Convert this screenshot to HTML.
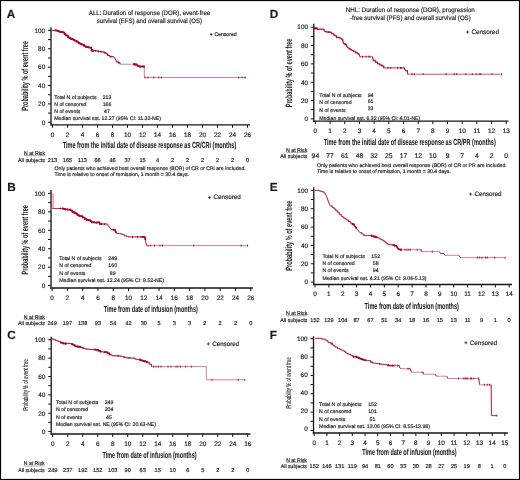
<!DOCTYPE html>
<html><head><meta charset="utf-8"><title>Kaplan-Meier figure</title>
<style>
html,body{margin:0;padding:0;background:#fff;}
body{width:520px;height:480px;overflow:hidden;}
svg{display:block;will-change:transform;}
svg text{font-family:"Liberation Sans", sans-serif;fill:#1a1a1a;stroke:#1a1a1a;stroke-width:0.16px;}
svg text.nb{stroke:none;}
svg text.xl{stroke-width:0.06px;}
svg text.yl{stroke-width:0.1px;}
</style></head>
<body>
<svg width="520" height="480" viewBox="0 0 520 480">
<rect x="0" y="0" width="520" height="480" fill="#fff"/>
<rect x="0.5" y="0.5" width="519" height="479" fill="none" stroke="#000" stroke-width="1.2"/>
<g text-rendering="geometricPrecision">
<text x="6.80" y="17.62" font-size="11.8" font-weight="bold" fill="#000">A</text>
<text x="88.80" y="15.03" font-size="6.5" textLength="121.40" lengthAdjust="spacingAndGlyphs">ALL: Duration of response (DOR), event-free</text>
<text x="96.80" y="23.08" font-size="6.5" textLength="105.20" lengthAdjust="spacingAndGlyphs">survival (EFS) and overall survival (OS)</text>
<line x1="209.84" y1="34.45" x2="212.45" y2="34.45" stroke="#222" stroke-width="0.75"/>
<line x1="211.15" y1="33.15" x2="211.15" y2="35.75" stroke="#222" stroke-width="0.75"/>
<text x="214.43" y="35.90" font-size="5.3" textLength="22.17" lengthAdjust="spacingAndGlyphs">Censored</text>
<line x1="51.00" y1="27.30" x2="51.00" y2="125.40" stroke="#141414" stroke-width="1.3"/>
<line x1="48.00" y1="122.30" x2="51.00" y2="122.30" stroke="#141414" stroke-width="1.0"/>
<text x="45.20" y="124.59" font-size="6.4" text-anchor="end">0</text>
<line x1="48.00" y1="113.11" x2="51.00" y2="113.11" stroke="#141414" stroke-width="1.0"/>
<line x1="48.00" y1="103.92" x2="51.00" y2="103.92" stroke="#141414" stroke-width="1.0"/>
<text x="45.20" y="106.21" font-size="6.4" text-anchor="end">20</text>
<line x1="48.00" y1="94.73" x2="51.00" y2="94.73" stroke="#141414" stroke-width="1.0"/>
<line x1="48.00" y1="85.54" x2="51.00" y2="85.54" stroke="#141414" stroke-width="1.0"/>
<text x="45.20" y="87.83" font-size="6.4" text-anchor="end">40</text>
<line x1="48.00" y1="76.35" x2="51.00" y2="76.35" stroke="#141414" stroke-width="1.0"/>
<line x1="48.00" y1="67.16" x2="51.00" y2="67.16" stroke="#141414" stroke-width="1.0"/>
<text x="45.20" y="69.45" font-size="6.4" text-anchor="end">60</text>
<line x1="48.00" y1="57.97" x2="51.00" y2="57.97" stroke="#141414" stroke-width="1.0"/>
<line x1="48.00" y1="48.78" x2="51.00" y2="48.78" stroke="#141414" stroke-width="1.0"/>
<text x="45.20" y="51.07" font-size="6.4" text-anchor="end">80</text>
<line x1="48.00" y1="39.59" x2="51.00" y2="39.59" stroke="#141414" stroke-width="1.0"/>
<line x1="48.00" y1="30.40" x2="51.00" y2="30.40" stroke="#141414" stroke-width="1.0"/>
<text x="45.20" y="32.69" font-size="6.4" text-anchor="end">100</text>
<line x1="50.40" y1="124.80" x2="250.00" y2="124.80" stroke="#141414" stroke-width="1.3"/>
<line x1="52.50" y1="124.80" x2="52.50" y2="127.80" stroke="#141414" stroke-width="1.0"/>
<text x="52.50" y="136.89" font-size="6.4" text-anchor="middle">0</text>
<line x1="67.50" y1="124.80" x2="67.50" y2="127.80" stroke="#141414" stroke-width="1.0"/>
<text x="67.50" y="136.89" font-size="6.4" text-anchor="middle">2</text>
<line x1="82.50" y1="124.80" x2="82.50" y2="127.80" stroke="#141414" stroke-width="1.0"/>
<text x="82.50" y="136.89" font-size="6.4" text-anchor="middle">4</text>
<line x1="97.50" y1="124.80" x2="97.50" y2="127.80" stroke="#141414" stroke-width="1.0"/>
<text x="97.50" y="136.89" font-size="6.4" text-anchor="middle">6</text>
<line x1="112.50" y1="124.80" x2="112.50" y2="127.80" stroke="#141414" stroke-width="1.0"/>
<text x="112.50" y="136.89" font-size="6.4" text-anchor="middle">8</text>
<line x1="127.50" y1="124.80" x2="127.50" y2="127.80" stroke="#141414" stroke-width="1.0"/>
<text x="127.50" y="136.89" font-size="6.4" text-anchor="middle">10</text>
<line x1="142.50" y1="124.80" x2="142.50" y2="127.80" stroke="#141414" stroke-width="1.0"/>
<text x="142.50" y="136.89" font-size="6.4" text-anchor="middle">12</text>
<line x1="157.50" y1="124.80" x2="157.50" y2="127.80" stroke="#141414" stroke-width="1.0"/>
<text x="157.50" y="136.89" font-size="6.4" text-anchor="middle">14</text>
<line x1="172.50" y1="124.80" x2="172.50" y2="127.80" stroke="#141414" stroke-width="1.0"/>
<text x="172.50" y="136.89" font-size="6.4" text-anchor="middle">16</text>
<line x1="187.50" y1="124.80" x2="187.50" y2="127.80" stroke="#141414" stroke-width="1.0"/>
<text x="187.50" y="136.89" font-size="6.4" text-anchor="middle">18</text>
<line x1="202.50" y1="124.80" x2="202.50" y2="127.80" stroke="#141414" stroke-width="1.0"/>
<text x="202.50" y="136.89" font-size="6.4" text-anchor="middle">20</text>
<line x1="217.50" y1="124.80" x2="217.50" y2="127.80" stroke="#141414" stroke-width="1.0"/>
<text x="217.50" y="136.89" font-size="6.4" text-anchor="middle">22</text>
<line x1="232.50" y1="124.80" x2="232.50" y2="127.80" stroke="#141414" stroke-width="1.0"/>
<text x="232.50" y="136.89" font-size="6.4" text-anchor="middle">24</text>
<line x1="247.50" y1="124.80" x2="247.50" y2="127.80" stroke="#141414" stroke-width="1.0"/>
<text x="247.50" y="136.89" font-size="6.4" text-anchor="middle">26</text>
<text x="62.70" y="148.40" font-size="8.8" font-weight="bold" textLength="173.55" lengthAdjust="spacingAndGlyphs" class="xl">Time from the initial date of disease response as CR/CRi (months)</text>
<text class="nb" transform="translate(28.39,75.90) rotate(-90)" x="0" y="0" font-size="9.2" font-weight="bold" text-anchor="middle" textLength="69.80" lengthAdjust="spacingAndGlyphs">Probability % of event free</text>
<text x="54.20" y="98.96" font-size="5.2">Total N of subjects</text>
<text x="107.00" y="98.96" font-size="5.2" text-anchor="middle">213</text>
<text x="54.20" y="105.86" font-size="5.2">N of censored</text>
<text x="107.00" y="105.86" font-size="5.2" text-anchor="middle">166</text>
<text x="54.20" y="113.06" font-size="5.2">N of events</text>
<text x="107.00" y="113.06" font-size="5.2" text-anchor="middle">47</text>
<text x="54.20" y="120.36" font-size="5.2" textLength="106.90" lengthAdjust="spacingAndGlyphs">Median survival est. 12.27 (95% CI: 11.32-NE)</text>
<polyline points="51.50,30.40 55.80,30.40 57.20,30.40 57.20,31.00 59.10,31.00 59.10,31.80 60.60,31.80 60.60,32.00 62.50,32.00 62.50,32.30 64.40,32.30 64.40,34.20 65.90,34.20 65.90,35.60 67.80,35.60 67.80,37.10 69.20,37.10 69.20,38.00 70.70,38.00 70.70,39.00 73.10,39.00 73.10,39.90 74.30,39.90 74.30,40.40 75.50,40.40 75.50,40.90 76.70,40.90 76.70,41.60 77.90,41.60 77.90,42.30 78.80,42.30 78.80,43.30 80.50,43.30 80.50,44.05 82.20,44.05 82.20,44.80 84.10,44.80 84.10,46.20 86.10,46.20 86.10,47.00 87.75,47.00 87.75,47.30 89.40,47.30 89.40,47.60 91.30,47.60 91.30,48.60 92.30,50.70 95.20,50.70 96.90,50.70 96.90,51.20 98.43,51.20 98.43,51.40 99.97,51.40 99.97,51.60 101.50,51.60 101.50,51.80 103.30,51.80 103.30,52.30 105.00,52.30 105.00,53.00 106.70,53.00 106.70,54.10 107.90,54.10 107.90,55.50 109.60,55.50 109.60,56.70 113.60,56.70 114.80,58.40 116.00,60.10 116.50,61.90 118.30,61.90 118.30,62.70 120.00,62.70 120.00,64.20 133.30,64.20 135.00,64.20 135.00,64.50 137.30,64.50 137.30,66.10 139.00,66.10 139.00,66.50 144.30,66.50 144.30,77.50 246.00,77.50" fill="none" stroke="#d4829a" stroke-width="1.0" stroke-linejoin="miter"/>
<polyline points="51.50,30.40 55.80,30.40 57.20,30.40 57.20,31.00 59.10,31.00 59.10,31.80 60.60,31.80 60.60,32.00 62.50,32.00 62.50,32.30 64.40,32.30 64.40,34.20 65.90,34.20 65.90,35.60 67.80,35.60 67.80,37.10 69.20,37.10 69.20,38.00 70.70,38.00 70.70,39.00 73.10,39.00 73.10,39.90 74.30,39.90 74.30,40.40 75.50,40.40 75.50,40.90 76.70,40.90 76.70,41.60 77.90,41.60 77.90,42.30 78.80,42.30 78.80,43.30 80.50,43.30 80.50,44.05 82.20,44.05 82.20,44.80 84.10,44.80 84.10,46.20 86.10,46.20 86.10,47.00 87.75,47.00 87.75,47.30 89.40,47.30 89.40,47.60 91.30,47.60 91.30,48.60 92.30,50.70 95.20,50.70 96.90,50.70 96.90,51.20 98.43,51.20 98.43,51.40 99.97,51.40 99.97,51.60 101.50,51.60 101.50,51.80 103.30,51.80 103.30,52.30 105.00,52.30 105.00,53.00 106.70,53.00 106.70,54.10 107.90,54.10 107.90,55.50 109.60,55.50 109.60,56.70 113.60,56.70 114.80,58.40 116.00,60.10 116.50,61.90 118.30,61.90 118.30,62.70 120.00,62.70 120.00,64.20" fill="none" stroke="#aa0428" stroke-width="0.85" stroke-linejoin="miter"/>
<polyline points="133.30,64.20 135.00,64.20 135.00,64.50 137.30,64.50 137.30,66.10 139.00,66.10 139.00,66.50 144.30,66.50" fill="none" stroke="#aa0428" stroke-width="0.85" stroke-linejoin="miter"/>
<polyline points="55.80,30.40 55.80,30.40 57.20,30.40 57.20,31.00 59.10,31.00 59.10,31.80 60.60,31.80 60.60,32.00 62.50,32.00 62.50,32.30 64.40,32.30 64.40,34.20 65.90,34.20 65.90,35.60 67.80,35.60 67.80,37.10 69.20,37.10 69.20,38.00 70.70,38.00 70.70,39.00 73.10,39.00 73.10,39.90 74.30,39.90 74.30,40.40 75.50,40.40 75.50,40.90 76.70,40.90 76.70,41.60 77.90,41.60 77.90,42.30 78.80,42.30 78.80,43.30 80.50,43.30 80.50,44.05 82.20,44.05 82.20,44.80 84.10,44.80 84.10,46.20 86.10,46.20 86.10,47.00 87.75,47.00 87.75,47.30 89.40,47.30 89.40,47.60 91.30,47.60 91.30,48.60 92.30,50.70 93.20,50.70" fill="none" stroke="#aa0428" stroke-width="1.35" stroke-linejoin="miter" stroke-linecap="round"/>
<rect x="55.05" y="29.40" width="1.5" height="2.0" fill="#aa0428"/>
<rect x="57.39" y="30.00" width="1.5" height="2.0" fill="#aa0428"/>
<rect x="59.72" y="30.80" width="1.5" height="2.0" fill="#aa0428"/>
<rect x="62.06" y="31.30" width="1.5" height="2.0" fill="#aa0428"/>
<rect x="64.40" y="33.20" width="1.5" height="2.0" fill="#aa0428"/>
<rect x="66.74" y="34.60" width="1.5" height="2.0" fill="#aa0428"/>
<rect x="69.08" y="37.00" width="1.5" height="2.0" fill="#aa0428"/>
<rect x="71.41" y="38.00" width="1.5" height="2.0" fill="#aa0428"/>
<rect x="73.75" y="39.40" width="1.5" height="2.0" fill="#aa0428"/>
<rect x="76.09" y="40.60" width="1.5" height="2.0" fill="#aa0428"/>
<rect x="78.42" y="42.30" width="1.5" height="2.0" fill="#aa0428"/>
<rect x="80.76" y="43.05" width="1.5" height="2.0" fill="#aa0428"/>
<rect x="83.10" y="43.80" width="1.5" height="2.0" fill="#aa0428"/>
<rect x="85.44" y="46.00" width="1.5" height="2.0" fill="#aa0428"/>
<rect x="87.78" y="46.30" width="1.5" height="2.0" fill="#aa0428"/>
<rect x="90.11" y="46.60" width="1.5" height="2.0" fill="#aa0428"/>
<rect x="92.45" y="49.70" width="1.5" height="2.0" fill="#aa0428"/>
<polyline points="134.00,64.20 135.00,64.20 135.00,64.50 136.50,64.50" fill="none" stroke="#aa0428" stroke-width="1.35" stroke-linejoin="miter" stroke-linecap="round"/>
<rect x="133.25" y="63.20" width="1.5" height="2.0" fill="#aa0428"/>
<rect x="135.75" y="63.50" width="1.5" height="2.0" fill="#aa0428"/>
<polyline points="139.50,66.50 144.00,66.50" fill="none" stroke="#aa0428" stroke-width="1.35" stroke-linejoin="miter" stroke-linecap="round"/>
<rect x="138.75" y="65.50" width="1.5" height="2.0" fill="#aa0428"/>
<rect x="143.25" y="65.50" width="1.5" height="2.0" fill="#aa0428"/>
<line x1="145.00" y1="76.50" x2="145.00" y2="78.50" stroke="#aa0428" stroke-width="0.9"/>
<line x1="148.00" y1="76.50" x2="148.00" y2="78.50" stroke="#aa0428" stroke-width="0.9"/>
<line x1="153.75" y1="76.50" x2="153.75" y2="78.50" stroke="#aa0428" stroke-width="0.9"/>
<line x1="158.75" y1="76.50" x2="158.75" y2="78.50" stroke="#aa0428" stroke-width="0.9"/>
<line x1="161.25" y1="76.50" x2="161.25" y2="78.50" stroke="#aa0428" stroke-width="0.9"/>
<line x1="238.75" y1="76.50" x2="238.75" y2="78.50" stroke="#aa0428" stroke-width="0.9"/>
<line x1="242.00" y1="76.50" x2="242.00" y2="78.50" stroke="#aa0428" stroke-width="0.9"/>
<line x1="245.00" y1="76.50" x2="245.00" y2="78.50" stroke="#aa0428" stroke-width="0.9"/>
<line x1="95.50" y1="49.79" x2="95.50" y2="51.79" stroke="#aa0428" stroke-width="0.9"/>
<line x1="98.50" y1="50.41" x2="98.50" y2="52.41" stroke="#aa0428" stroke-width="0.9"/>
<line x1="101.00" y1="50.73" x2="101.00" y2="52.73" stroke="#aa0428" stroke-width="0.9"/>
<line x1="104.50" y1="51.79" x2="104.50" y2="53.79" stroke="#aa0428" stroke-width="0.9"/>
<line x1="107.50" y1="54.03" x2="107.50" y2="56.03" stroke="#aa0428" stroke-width="0.9"/>
<line x1="111.00" y1="55.70" x2="111.00" y2="57.70" stroke="#aa0428" stroke-width="0.9"/>
<line x1="118.30" y1="61.70" x2="118.30" y2="63.70" stroke="#aa0428" stroke-width="0.9"/>
<ellipse cx="91.60" cy="50.40" rx="1.10" ry="1.04" fill="#aa0428"/>
<ellipse cx="135.20" cy="64.60" rx="1.15" ry="1.09" fill="#aa0428"/>
<ellipse cx="137.90" cy="65.90" rx="1.10" ry="1.04" fill="#aa0428"/>
<ellipse cx="140.60" cy="66.50" rx="1.15" ry="1.09" fill="#aa0428"/>
<ellipse cx="142.90" cy="66.50" rx="1.15" ry="1.09" fill="#aa0428"/>
<text x="24.00" y="154.90" font-size="5.3" textLength="21.00" lengthAdjust="spacingAndGlyphs">N at Risk</text>
<line x1="24.00" y1="155.66" x2="45.00" y2="155.66" stroke="#555" stroke-width="0.5"/>
<text x="18.00" y="161.65" font-size="5.3" textLength="27.00" lengthAdjust="spacingAndGlyphs">All subjects</text>
<text x="52.50" y="161.75" font-size="5.6" text-anchor="middle">213</text>
<text x="67.50" y="161.75" font-size="5.6" text-anchor="middle">165</text>
<text x="82.50" y="161.75" font-size="5.6" text-anchor="middle">113</text>
<text x="97.50" y="161.75" font-size="5.6" text-anchor="middle">66</text>
<text x="112.50" y="161.75" font-size="5.6" text-anchor="middle">46</text>
<text x="127.50" y="161.75" font-size="5.6" text-anchor="middle">37</text>
<text x="142.50" y="161.75" font-size="5.6" text-anchor="middle">15</text>
<text x="157.50" y="161.75" font-size="5.6" text-anchor="middle">4</text>
<text x="172.50" y="161.75" font-size="5.6" text-anchor="middle">2</text>
<text x="187.50" y="161.75" font-size="5.6" text-anchor="middle">2</text>
<text x="202.50" y="161.75" font-size="5.6" text-anchor="middle">2</text>
<text x="217.50" y="161.75" font-size="5.6" text-anchor="middle">2</text>
<text x="232.50" y="161.75" font-size="5.6" text-anchor="middle">2</text>
<text x="247.50" y="161.75" font-size="5.6" text-anchor="middle">0</text>
<text x="54.50" y="169.86" font-size="5.2" textLength="191.25" lengthAdjust="spacingAndGlyphs">Only patients who achieved best overall response (BOR) of CR or CRi are included.</text>
<text x="54.50" y="175.61" font-size="5.2" textLength="134.50" lengthAdjust="spacingAndGlyphs">Time is relative to onset of remission, 1 month = 30.4 days.</text>
<text x="7.30" y="190.92" font-size="11.8" font-weight="bold" fill="#000">B</text>
<line x1="208.05" y1="197.45" x2="211.15" y2="197.45" stroke="#222" stroke-width="0.75"/>
<line x1="209.60" y1="195.90" x2="209.60" y2="199.00" stroke="#222" stroke-width="0.75"/>
<text x="213.50" y="199.26" font-size="6.3" textLength="27.25" lengthAdjust="spacingAndGlyphs">Censored</text>
<line x1="51.00" y1="190.00" x2="51.00" y2="288.60" stroke="#141414" stroke-width="1.3"/>
<line x1="48.00" y1="285.60" x2="51.00" y2="285.60" stroke="#141414" stroke-width="1.0"/>
<text x="45.20" y="287.89" font-size="6.4" text-anchor="end">0</text>
<line x1="48.00" y1="276.38" x2="51.00" y2="276.38" stroke="#141414" stroke-width="1.0"/>
<line x1="48.00" y1="267.16" x2="51.00" y2="267.16" stroke="#141414" stroke-width="1.0"/>
<text x="45.20" y="269.45" font-size="6.4" text-anchor="end">20</text>
<line x1="48.00" y1="257.94" x2="51.00" y2="257.94" stroke="#141414" stroke-width="1.0"/>
<line x1="48.00" y1="248.72" x2="51.00" y2="248.72" stroke="#141414" stroke-width="1.0"/>
<text x="45.20" y="251.01" font-size="6.4" text-anchor="end">40</text>
<line x1="48.00" y1="239.50" x2="51.00" y2="239.50" stroke="#141414" stroke-width="1.0"/>
<line x1="48.00" y1="230.28" x2="51.00" y2="230.28" stroke="#141414" stroke-width="1.0"/>
<text x="45.20" y="232.57" font-size="6.4" text-anchor="end">60</text>
<line x1="48.00" y1="221.06" x2="51.00" y2="221.06" stroke="#141414" stroke-width="1.0"/>
<line x1="48.00" y1="211.84" x2="51.00" y2="211.84" stroke="#141414" stroke-width="1.0"/>
<text x="45.20" y="214.13" font-size="6.4" text-anchor="end">80</text>
<line x1="48.00" y1="202.62" x2="51.00" y2="202.62" stroke="#141414" stroke-width="1.0"/>
<line x1="48.00" y1="193.40" x2="51.00" y2="193.40" stroke="#141414" stroke-width="1.0"/>
<text x="45.20" y="195.69" font-size="6.4" text-anchor="end">100</text>
<line x1="50.40" y1="288.00" x2="252.90" y2="288.00" stroke="#141414" stroke-width="1.3"/>
<line x1="52.10" y1="288.00" x2="52.10" y2="291.00" stroke="#141414" stroke-width="1.0"/>
<text x="52.10" y="299.59" font-size="6.4" text-anchor="middle">0</text>
<line x1="67.38" y1="288.00" x2="67.38" y2="291.00" stroke="#141414" stroke-width="1.0"/>
<text x="67.38" y="299.59" font-size="6.4" text-anchor="middle">2</text>
<line x1="82.66" y1="288.00" x2="82.66" y2="291.00" stroke="#141414" stroke-width="1.0"/>
<text x="82.66" y="299.59" font-size="6.4" text-anchor="middle">4</text>
<line x1="97.94" y1="288.00" x2="97.94" y2="291.00" stroke="#141414" stroke-width="1.0"/>
<text x="97.94" y="299.59" font-size="6.4" text-anchor="middle">6</text>
<line x1="113.22" y1="288.00" x2="113.22" y2="291.00" stroke="#141414" stroke-width="1.0"/>
<text x="113.22" y="299.59" font-size="6.4" text-anchor="middle">8</text>
<line x1="128.50" y1="288.00" x2="128.50" y2="291.00" stroke="#141414" stroke-width="1.0"/>
<text x="128.50" y="299.59" font-size="6.4" text-anchor="middle">10</text>
<line x1="143.78" y1="288.00" x2="143.78" y2="291.00" stroke="#141414" stroke-width="1.0"/>
<text x="143.78" y="299.59" font-size="6.4" text-anchor="middle">12</text>
<line x1="159.06" y1="288.00" x2="159.06" y2="291.00" stroke="#141414" stroke-width="1.0"/>
<text x="159.06" y="299.59" font-size="6.4" text-anchor="middle">14</text>
<line x1="174.34" y1="288.00" x2="174.34" y2="291.00" stroke="#141414" stroke-width="1.0"/>
<text x="174.34" y="299.59" font-size="6.4" text-anchor="middle">16</text>
<line x1="189.62" y1="288.00" x2="189.62" y2="291.00" stroke="#141414" stroke-width="1.0"/>
<text x="189.62" y="299.59" font-size="6.4" text-anchor="middle">18</text>
<line x1="204.90" y1="288.00" x2="204.90" y2="291.00" stroke="#141414" stroke-width="1.0"/>
<text x="204.90" y="299.59" font-size="6.4" text-anchor="middle">20</text>
<line x1="220.18" y1="288.00" x2="220.18" y2="291.00" stroke="#141414" stroke-width="1.0"/>
<text x="220.18" y="299.59" font-size="6.4" text-anchor="middle">22</text>
<line x1="235.46" y1="288.00" x2="235.46" y2="291.00" stroke="#141414" stroke-width="1.0"/>
<text x="235.46" y="299.59" font-size="6.4" text-anchor="middle">24</text>
<line x1="250.74" y1="288.00" x2="250.74" y2="291.00" stroke="#141414" stroke-width="1.0"/>
<text x="250.74" y="299.59" font-size="6.4" text-anchor="middle">26</text>
<text x="103.75" y="311.70" font-size="8.8" font-weight="bold" textLength="94.05" lengthAdjust="spacingAndGlyphs" class="xl">Time from date of infusion (months)</text>
<text class="nb" transform="translate(28.24,239.80) rotate(-90)" x="0" y="0" font-size="9.2" font-weight="bold" text-anchor="middle" textLength="69.20" lengthAdjust="spacingAndGlyphs">Probability % of event free</text>
<text x="59.20" y="259.76" font-size="5.2">Total N of subjects</text>
<text x="112.70" y="259.76" font-size="5.2" text-anchor="middle">249</text>
<text x="59.20" y="267.06" font-size="5.2">N of censored</text>
<text x="112.70" y="267.06" font-size="5.2" text-anchor="middle">160</text>
<text x="59.20" y="274.56" font-size="5.2">N of events</text>
<text x="112.70" y="274.56" font-size="5.2" text-anchor="middle">89</text>
<text x="59.20" y="282.26" font-size="5.2" textLength="104.80" lengthAdjust="spacingAndGlyphs">Median survival est. 12.24 (95% CI: 8.52-NE)</text>
<polyline points="52.30,208.50 62.50,208.50 63.00,208.50 63.00,208.70 64.20,208.70 64.20,209.05 65.40,209.05 65.40,209.40 67.30,209.40 67.30,209.60 69.20,209.60 70.70,209.60 70.70,210.40 72.10,210.40 72.10,211.70 74.00,211.70 74.00,212.70 76.00,212.70 76.00,213.70 77.40,213.70 77.40,214.90 78.80,214.90 78.80,215.90 80.80,215.90 80.80,216.30 82.70,216.30 82.70,217.50 84.60,217.50 84.60,218.80 86.50,218.80 86.50,220.00 88.50,220.00 88.50,220.20 90.40,220.20 90.40,221.20 91.80,221.20 91.80,222.30 95.20,222.30 95.20,222.60 97.30,222.60 97.30,222.40 99.60,222.40 99.60,224.00 103.70,224.00 106.00,224.00 107.70,224.00 107.70,224.80 109.40,227.10 111.10,229.40 112.30,229.40 112.30,229.60 113.50,229.60 113.50,229.80 115.20,229.80 115.20,231.10 116.90,233.50 119.80,233.50 119.80,233.70 121.25,233.70 121.25,234.15 122.70,234.15 122.70,234.60 124.40,234.60 124.40,235.80 126.40,235.80 126.40,236.35 128.40,236.35 128.40,236.90 142.30,236.90 144.00,236.90 144.00,237.10 145.20,237.10 145.20,238.10 145.70,242.70 146.90,245.60 248.25,245.60" fill="none" stroke="#d4829a" stroke-width="1.0" stroke-linejoin="miter"/>
<polyline points="52.30,208.50 62.50,208.50 63.00,208.50 63.00,208.70 64.20,208.70 64.20,209.05 65.40,209.05 65.40,209.40 67.30,209.40 67.30,209.60 69.20,209.60 70.70,209.60 70.70,210.40 72.10,210.40 72.10,211.70 74.00,211.70 74.00,212.70 76.00,212.70 76.00,213.70 77.40,213.70 77.40,214.90 78.80,214.90 78.80,215.90 80.80,215.90 80.80,216.30 82.70,216.30 82.70,217.50 84.60,217.50 84.60,218.80 86.50,218.80 86.50,220.00 88.50,220.00 88.50,220.20 90.40,220.20 90.40,221.20 91.80,221.20 91.80,222.30 95.20,222.30 95.20,222.60 97.30,222.60 97.30,222.40 99.60,222.40 99.60,224.00 103.70,224.00 106.00,224.00 107.70,224.00 107.70,224.80 109.40,227.10 111.10,229.40 112.30,229.40 112.30,229.60 113.50,229.60 113.50,229.80 115.20,229.80 115.20,231.10 116.90,233.50 119.80,233.50 119.80,233.70 121.25,233.70 121.25,234.15 122.70,234.15 122.70,234.60 124.40,234.60 124.40,235.80 126.40,235.80 126.40,236.35 128.40,236.35 128.40,236.90 142.30,236.90 144.00,236.90 144.00,237.10 145.20,237.10 145.20,238.10 145.70,242.70 146.90,245.60" fill="none" stroke="#aa0428" stroke-width="0.68" stroke-linejoin="miter"/>
<polyline points="63.00,208.50 63.00,208.50 63.00,208.70 64.20,208.70 64.20,209.05 65.40,209.05 65.40,209.40 67.30,209.40 67.30,209.60 69.20,209.60 70.70,209.60 70.70,210.40 72.10,210.40 72.10,211.70 74.00,211.70 74.00,212.70 76.00,212.70 76.00,213.70 77.40,213.70 77.40,214.90 78.80,214.90 78.80,215.90 80.80,215.90 80.80,216.30 82.70,216.30 82.70,217.50 84.60,217.50 84.60,218.80 86.50,218.80 86.50,220.00 88.50,220.00 88.50,220.20 90.40,220.20 90.40,221.20 91.80,221.20 91.80,222.30 95.20,222.30 95.20,222.60 97.30,222.60 97.30,222.40 99.60,222.40 99.60,224.00 101.50,224.00" fill="none" stroke="#aa0428" stroke-width="1.35" stroke-linejoin="miter" stroke-linecap="round"/>
<rect x="62.25" y="207.50" width="1.5" height="2.0" fill="#aa0428"/>
<rect x="64.66" y="208.40" width="1.5" height="2.0" fill="#aa0428"/>
<rect x="67.06" y="208.60" width="1.5" height="2.0" fill="#aa0428"/>
<rect x="69.47" y="208.60" width="1.5" height="2.0" fill="#aa0428"/>
<rect x="71.88" y="210.70" width="1.5" height="2.0" fill="#aa0428"/>
<rect x="74.28" y="211.70" width="1.5" height="2.0" fill="#aa0428"/>
<rect x="76.69" y="213.90" width="1.5" height="2.0" fill="#aa0428"/>
<rect x="79.09" y="214.90" width="1.5" height="2.0" fill="#aa0428"/>
<rect x="81.50" y="215.30" width="1.5" height="2.0" fill="#aa0428"/>
<rect x="83.91" y="217.80" width="1.5" height="2.0" fill="#aa0428"/>
<rect x="86.31" y="219.00" width="1.5" height="2.0" fill="#aa0428"/>
<rect x="88.72" y="219.20" width="1.5" height="2.0" fill="#aa0428"/>
<rect x="91.12" y="221.30" width="1.5" height="2.0" fill="#aa0428"/>
<rect x="93.53" y="221.30" width="1.5" height="2.0" fill="#aa0428"/>
<rect x="95.94" y="221.60" width="1.5" height="2.0" fill="#aa0428"/>
<rect x="98.34" y="221.40" width="1.5" height="2.0" fill="#aa0428"/>
<rect x="100.75" y="223.00" width="1.5" height="2.0" fill="#aa0428"/>
<polyline points="113.50,229.60 113.50,229.60 113.50,229.80 115.20,229.80 115.20,231.10 116.00,232.23" fill="none" stroke="#aa0428" stroke-width="1.35" stroke-linejoin="miter" stroke-linecap="round"/>
<rect x="112.75" y="228.60" width="1.5" height="2.0" fill="#aa0428"/>
<rect x="115.25" y="231.23" width="1.5" height="2.0" fill="#aa0428"/>
<polyline points="142.50,236.90 144.00,236.90 144.00,237.10 145.20,237.10 145.20,238.10 145.30,239.02" fill="none" stroke="#aa0428" stroke-width="1.35" stroke-linejoin="miter" stroke-linecap="round"/>
<rect x="141.75" y="235.90" width="1.5" height="2.0" fill="#aa0428"/>
<rect x="144.55" y="238.02" width="1.5" height="2.0" fill="#aa0428"/>
<line x1="60.60" y1="207.50" x2="60.60" y2="209.50" stroke="#aa0428" stroke-width="0.9"/>
<line x1="104.50" y1="223.00" x2="104.50" y2="225.00" stroke="#aa0428" stroke-width="0.9"/>
<line x1="132.50" y1="235.90" x2="132.50" y2="237.90" stroke="#aa0428" stroke-width="0.9"/>
<line x1="137.50" y1="235.90" x2="137.50" y2="237.90" stroke="#aa0428" stroke-width="0.9"/>
<line x1="141.00" y1="235.90" x2="141.00" y2="237.90" stroke="#aa0428" stroke-width="0.9"/>
<line x1="148.00" y1="244.60" x2="148.00" y2="246.60" stroke="#aa0428" stroke-width="0.9"/>
<line x1="150.50" y1="244.60" x2="150.50" y2="246.60" stroke="#aa0428" stroke-width="0.9"/>
<line x1="154.50" y1="244.60" x2="154.50" y2="246.60" stroke="#aa0428" stroke-width="0.9"/>
<line x1="160.00" y1="244.60" x2="160.00" y2="246.60" stroke="#aa0428" stroke-width="0.9"/>
<line x1="162.50" y1="244.60" x2="162.50" y2="246.60" stroke="#aa0428" stroke-width="0.9"/>
<line x1="193.75" y1="244.60" x2="193.75" y2="246.60" stroke="#aa0428" stroke-width="0.9"/>
<line x1="241.25" y1="244.60" x2="241.25" y2="246.60" stroke="#aa0428" stroke-width="0.9"/>
<line x1="247.50" y1="244.60" x2="247.50" y2="246.60" stroke="#aa0428" stroke-width="0.9"/>
<line x1="53.0" y1="193.4" x2="53.0" y2="208.3" stroke="#e89aae" stroke-width="1.6"/>
<text x="23.75" y="318.90" font-size="5.3" textLength="21.25" lengthAdjust="spacingAndGlyphs">N at Risk</text>
<line x1="23.75" y1="319.66" x2="45.00" y2="319.66" stroke="#555" stroke-width="0.5"/>
<text x="18.00" y="325.15" font-size="5.3" textLength="27.00" lengthAdjust="spacingAndGlyphs">All subjects</text>
<text x="52.10" y="325.00" font-size="5.6" text-anchor="middle">249</text>
<text x="67.38" y="325.00" font-size="5.6" text-anchor="middle">197</text>
<text x="82.66" y="325.00" font-size="5.6" text-anchor="middle">138</text>
<text x="97.94" y="325.00" font-size="5.6" text-anchor="middle">93</text>
<text x="113.22" y="325.00" font-size="5.6" text-anchor="middle">54</text>
<text x="128.50" y="325.00" font-size="5.6" text-anchor="middle">42</text>
<text x="143.78" y="325.00" font-size="5.6" text-anchor="middle">30</text>
<text x="159.06" y="325.00" font-size="5.6" text-anchor="middle">5</text>
<text x="174.34" y="325.00" font-size="5.6" text-anchor="middle">3</text>
<text x="189.62" y="325.00" font-size="5.6" text-anchor="middle">3</text>
<text x="204.90" y="325.00" font-size="5.6" text-anchor="middle">2</text>
<text x="220.18" y="325.00" font-size="5.6" text-anchor="middle">2</text>
<text x="235.46" y="325.00" font-size="5.6" text-anchor="middle">2</text>
<text x="250.74" y="325.00" font-size="5.6" text-anchor="middle">0</text>
<text x="7.20" y="338.62" font-size="11.8" font-weight="bold" fill="#000">C</text>
<line x1="206.75" y1="343.95" x2="209.85" y2="343.95" stroke="#222" stroke-width="0.75"/>
<line x1="208.30" y1="342.40" x2="208.30" y2="345.50" stroke="#222" stroke-width="0.75"/>
<text x="212.20" y="345.76" font-size="6.3" textLength="27.00" lengthAdjust="spacingAndGlyphs">Censored</text>
<line x1="51.20" y1="336.70" x2="51.20" y2="434.60" stroke="#141414" stroke-width="1.3"/>
<line x1="48.20" y1="431.60" x2="51.20" y2="431.60" stroke="#141414" stroke-width="1.0"/>
<text x="45.40" y="433.89" font-size="6.4" text-anchor="end">0</text>
<line x1="48.20" y1="422.42" x2="51.20" y2="422.42" stroke="#141414" stroke-width="1.0"/>
<line x1="48.20" y1="413.23" x2="51.20" y2="413.23" stroke="#141414" stroke-width="1.0"/>
<text x="45.40" y="415.52" font-size="6.4" text-anchor="end">20</text>
<line x1="48.20" y1="404.05" x2="51.20" y2="404.05" stroke="#141414" stroke-width="1.0"/>
<line x1="48.20" y1="394.86" x2="51.20" y2="394.86" stroke="#141414" stroke-width="1.0"/>
<text x="45.40" y="397.15" font-size="6.4" text-anchor="end">40</text>
<line x1="48.20" y1="385.68" x2="51.20" y2="385.68" stroke="#141414" stroke-width="1.0"/>
<line x1="48.20" y1="376.49" x2="51.20" y2="376.49" stroke="#141414" stroke-width="1.0"/>
<text x="45.40" y="378.78" font-size="6.4" text-anchor="end">60</text>
<line x1="48.20" y1="367.31" x2="51.20" y2="367.31" stroke="#141414" stroke-width="1.0"/>
<line x1="48.20" y1="358.12" x2="51.20" y2="358.12" stroke="#141414" stroke-width="1.0"/>
<text x="45.40" y="360.41" font-size="6.4" text-anchor="end">80</text>
<line x1="48.20" y1="348.94" x2="51.20" y2="348.94" stroke="#141414" stroke-width="1.0"/>
<line x1="48.20" y1="339.75" x2="51.20" y2="339.75" stroke="#141414" stroke-width="1.0"/>
<text x="45.40" y="342.04" font-size="6.4" text-anchor="end">100</text>
<line x1="50.60" y1="434.00" x2="250.40" y2="434.00" stroke="#141414" stroke-width="1.3"/>
<line x1="52.70" y1="434.00" x2="52.70" y2="437.00" stroke="#141414" stroke-width="1.0"/>
<text x="52.70" y="446.49" font-size="6.4" text-anchor="middle">0</text>
<line x1="67.70" y1="434.00" x2="67.70" y2="437.00" stroke="#141414" stroke-width="1.0"/>
<text x="67.70" y="446.49" font-size="6.4" text-anchor="middle">2</text>
<line x1="82.70" y1="434.00" x2="82.70" y2="437.00" stroke="#141414" stroke-width="1.0"/>
<text x="82.70" y="446.49" font-size="6.4" text-anchor="middle">4</text>
<line x1="97.70" y1="434.00" x2="97.70" y2="437.00" stroke="#141414" stroke-width="1.0"/>
<text x="97.70" y="446.49" font-size="6.4" text-anchor="middle">6</text>
<line x1="112.70" y1="434.00" x2="112.70" y2="437.00" stroke="#141414" stroke-width="1.0"/>
<text x="112.70" y="446.49" font-size="6.4" text-anchor="middle">8</text>
<line x1="127.70" y1="434.00" x2="127.70" y2="437.00" stroke="#141414" stroke-width="1.0"/>
<text x="127.70" y="446.49" font-size="6.4" text-anchor="middle">10</text>
<line x1="142.70" y1="434.00" x2="142.70" y2="437.00" stroke="#141414" stroke-width="1.0"/>
<text x="142.70" y="446.49" font-size="6.4" text-anchor="middle">12</text>
<line x1="157.70" y1="434.00" x2="157.70" y2="437.00" stroke="#141414" stroke-width="1.0"/>
<text x="157.70" y="446.49" font-size="6.4" text-anchor="middle">14</text>
<line x1="172.70" y1="434.00" x2="172.70" y2="437.00" stroke="#141414" stroke-width="1.0"/>
<text x="172.70" y="446.49" font-size="6.4" text-anchor="middle">16</text>
<line x1="187.70" y1="434.00" x2="187.70" y2="437.00" stroke="#141414" stroke-width="1.0"/>
<text x="187.70" y="446.49" font-size="6.4" text-anchor="middle">18</text>
<line x1="202.70" y1="434.00" x2="202.70" y2="437.00" stroke="#141414" stroke-width="1.0"/>
<text x="202.70" y="446.49" font-size="6.4" text-anchor="middle">20</text>
<line x1="217.70" y1="434.00" x2="217.70" y2="437.00" stroke="#141414" stroke-width="1.0"/>
<text x="217.70" y="446.49" font-size="6.4" text-anchor="middle">22</text>
<line x1="232.70" y1="434.00" x2="232.70" y2="437.00" stroke="#141414" stroke-width="1.0"/>
<text x="232.70" y="446.49" font-size="6.4" text-anchor="middle">24</text>
<line x1="247.70" y1="434.00" x2="247.70" y2="437.00" stroke="#141414" stroke-width="1.0"/>
<text x="247.70" y="446.49" font-size="6.4" text-anchor="middle">16</text>
<text x="102.40" y="458.30" font-size="8.8" font-weight="bold" textLength="94.20" lengthAdjust="spacingAndGlyphs" class="xl">Time from date of infusion (months)</text>
<text class="yl" transform="translate(27.58,385.00) rotate(-90)" x="0" y="0" font-size="7.2" font-weight="normal" text-anchor="middle" textLength="51.20" lengthAdjust="spacingAndGlyphs">Probability % of event free</text>
<text x="55.90" y="404.36" font-size="5.2">Total N of subjects</text>
<text x="109.00" y="404.36" font-size="5.2" text-anchor="middle">249</text>
<text x="55.90" y="411.36" font-size="5.2">N of censored</text>
<text x="109.00" y="411.36" font-size="5.2" text-anchor="middle">204</text>
<text x="55.90" y="418.76" font-size="5.2">N of events</text>
<text x="109.00" y="418.76" font-size="5.2" text-anchor="middle">45</text>
<text x="55.90" y="426.16" font-size="5.2" textLength="100.10" lengthAdjust="spacingAndGlyphs">Median survival est. NE (95% CI: 20.63-NE)</text>
<polyline points="51.80,339.00 53.80,339.00 53.80,339.75 55.80,339.75 55.80,340.50 57.25,340.50 57.25,341.10 58.70,341.10 58.70,341.70 60.60,341.70 60.60,342.55 62.50,342.55 62.50,343.40 64.40,343.40 64.40,343.60 67.30,343.60 67.30,343.40 70.20,343.40 70.20,343.60 71.65,343.60 71.65,344.20 73.10,344.20 73.10,344.80 74.30,344.80 74.30,345.55 75.50,345.55 75.50,346.30 76.90,346.30 76.90,346.50 78.80,346.50 78.80,347.00 80.80,347.00 80.80,347.50 82.25,347.50 82.25,347.95 83.70,347.95 83.70,348.40 85.10,348.40 85.10,348.80 86.50,348.80 86.50,349.20 89.40,349.20 89.40,349.40 92.30,349.40 92.30,349.60 95.60,349.60 97.13,349.60 97.13,350.23 98.67,350.23 98.67,350.87 100.20,350.87 100.20,351.50 101.65,351.50 101.65,351.80 103.10,351.80 103.10,352.10 105.40,352.10 107.40,352.10 107.40,353.25 109.40,353.25 109.40,354.40 110.85,354.40 110.85,355.10 112.30,355.10 112.30,355.80 118.10,355.80 118.10,355.90 119.80,355.90 119.80,356.20 121.50,356.20 121.50,356.50 123.03,356.50 123.03,356.93 124.57,356.93 124.57,357.37 126.10,357.37 126.10,357.80 129.60,357.80 129.60,358.10 132.50,358.10 134.80,358.10 134.80,359.00 136.25,359.00 136.25,359.30 137.70,359.30 137.70,359.60 140.00,359.60 140.00,360.10 141.72,360.10 141.72,360.62 143.45,360.62 143.45,361.15 145.18,361.15 145.18,361.68 146.90,361.68 146.90,362.20 149.20,362.20 149.20,364.20 151.50,364.20 151.50,366.60 206.30,366.60 206.30,379.80 244.90,379.80" fill="none" stroke="#d4829a" stroke-width="1.0" stroke-linejoin="miter"/>
<polyline points="51.80,339.00 53.80,339.00 53.80,339.75 55.80,339.75 55.80,340.50 57.25,340.50 57.25,341.10 58.70,341.10 58.70,341.70 60.60,341.70 60.60,342.55 62.50,342.55 62.50,343.40 64.40,343.40 64.40,343.60 67.30,343.60 67.30,343.40 70.20,343.40 70.20,343.60 71.65,343.60 71.65,344.20 73.10,344.20 73.10,344.80 74.30,344.80 74.30,345.55 75.50,345.55 75.50,346.30 76.90,346.30 76.90,346.50 78.80,346.50 78.80,347.00 80.80,347.00 80.80,347.50 82.25,347.50 82.25,347.95 83.70,347.95 83.70,348.40 85.10,348.40 85.10,348.80 86.50,348.80 86.50,349.20 89.40,349.20 89.40,349.40 92.30,349.40 92.30,349.60 95.60,349.60 97.13,349.60 97.13,350.23 98.67,350.23 98.67,350.87 100.20,350.87 100.20,351.50 101.65,351.50 101.65,351.80 103.10,351.80 103.10,352.10 105.40,352.10 107.40,352.10 107.40,353.25 109.40,353.25 109.40,354.40 110.85,354.40 110.85,355.10 112.30,355.10 112.30,355.80 118.10,355.80 118.10,355.90 119.80,355.90 119.80,356.20 121.50,356.20 121.50,356.50 123.03,356.50 123.03,356.93 124.57,356.93 124.57,357.37 126.10,357.37 126.10,357.80 129.60,357.80 129.60,358.10 132.50,358.10 134.80,358.10 134.80,359.00 136.25,359.00 136.25,359.30 137.70,359.30 137.70,359.60 140.00,359.60 140.00,360.10 141.72,360.10 141.72,360.62 143.45,360.62 143.45,361.15 145.18,361.15 145.18,361.68 146.90,361.68 146.90,362.20 149.20,362.20 149.20,364.20 151.50,364.20 151.50,366.60" fill="none" stroke="#aa0428" stroke-width="0.8" stroke-linejoin="miter"/>
<polyline points="61.00,342.55 62.50,342.55 62.50,343.40 64.40,343.40 64.40,343.60 66.00,343.60" fill="none" stroke="#aa0428" stroke-width="1.35" stroke-linejoin="miter" stroke-linecap="round"/>
<rect x="60.25" y="341.55" width="1.5" height="2.0" fill="#aa0428"/>
<rect x="62.75" y="342.40" width="1.5" height="2.0" fill="#aa0428"/>
<rect x="65.25" y="342.60" width="1.5" height="2.0" fill="#aa0428"/>
<polyline points="72.00,344.20 73.10,344.20 73.10,344.80 74.30,344.80 74.30,345.55 75.50,345.55 75.50,346.30 76.90,346.30 76.90,346.50 78.80,346.50 78.80,347.00 80.50,347.00" fill="none" stroke="#aa0428" stroke-width="1.35" stroke-linejoin="miter" stroke-linecap="round"/>
<rect x="71.25" y="343.20" width="1.5" height="2.0" fill="#aa0428"/>
<rect x="74.08" y="344.55" width="1.5" height="2.0" fill="#aa0428"/>
<rect x="76.92" y="345.50" width="1.5" height="2.0" fill="#aa0428"/>
<rect x="79.75" y="346.00" width="1.5" height="2.0" fill="#aa0428"/>
<polyline points="95.00,349.60 95.60,349.60 97.13,349.60 97.13,350.23 98.67,350.23 98.67,350.87 100.20,350.87 100.20,351.50 100.50,351.50" fill="none" stroke="#aa0428" stroke-width="1.35" stroke-linejoin="miter" stroke-linecap="round"/>
<rect x="94.25" y="348.60" width="1.5" height="2.0" fill="#aa0428"/>
<rect x="97.00" y="349.23" width="1.5" height="2.0" fill="#aa0428"/>
<rect x="99.75" y="350.50" width="1.5" height="2.0" fill="#aa0428"/>
<polyline points="105.00,352.10 105.40,352.10 107.40,352.10 107.40,353.25 109.40,353.25 109.40,354.40 109.50,354.40" fill="none" stroke="#aa0428" stroke-width="1.35" stroke-linejoin="miter" stroke-linecap="round"/>
<rect x="104.25" y="351.10" width="1.5" height="2.0" fill="#aa0428"/>
<rect x="108.75" y="353.40" width="1.5" height="2.0" fill="#aa0428"/>
<polyline points="140.00,359.60 140.00,359.60 140.00,360.10 141.72,360.10 141.72,360.62 143.45,360.62 143.45,361.15 145.18,361.15 145.18,361.68 146.90,361.68 146.90,362.20 147.00,362.20" fill="none" stroke="#aa0428" stroke-width="1.35" stroke-linejoin="miter" stroke-linecap="round"/>
<rect x="139.25" y="358.60" width="1.5" height="2.0" fill="#aa0428"/>
<rect x="141.58" y="359.62" width="1.5" height="2.0" fill="#aa0428"/>
<rect x="143.92" y="360.15" width="1.5" height="2.0" fill="#aa0428"/>
<rect x="146.25" y="361.20" width="1.5" height="2.0" fill="#aa0428"/>
<line x1="153.50" y1="365.60" x2="153.50" y2="367.60" stroke="#aa0428" stroke-width="0.9"/>
<line x1="156.00" y1="365.60" x2="156.00" y2="367.60" stroke="#aa0428" stroke-width="0.9"/>
<line x1="158.50" y1="365.60" x2="158.50" y2="367.60" stroke="#aa0428" stroke-width="0.9"/>
<line x1="161.00" y1="365.60" x2="161.00" y2="367.60" stroke="#aa0428" stroke-width="0.9"/>
<line x1="168.00" y1="365.60" x2="168.00" y2="367.60" stroke="#aa0428" stroke-width="0.9"/>
<line x1="171.00" y1="365.60" x2="171.00" y2="367.60" stroke="#aa0428" stroke-width="0.9"/>
<line x1="176.00" y1="365.60" x2="176.00" y2="367.60" stroke="#aa0428" stroke-width="0.9"/>
<line x1="177.80" y1="365.60" x2="177.80" y2="367.60" stroke="#aa0428" stroke-width="0.9"/>
<line x1="180.40" y1="365.60" x2="180.40" y2="367.60" stroke="#aa0428" stroke-width="0.9"/>
<line x1="185.60" y1="365.60" x2="185.60" y2="367.60" stroke="#aa0428" stroke-width="0.9"/>
<line x1="191.60" y1="365.60" x2="191.60" y2="367.60" stroke="#aa0428" stroke-width="0.9"/>
<line x1="212.00" y1="378.80" x2="212.00" y2="380.80" stroke="#aa0428" stroke-width="0.9"/>
<line x1="238.30" y1="378.80" x2="238.30" y2="380.80" stroke="#aa0428" stroke-width="0.9"/>
<line x1="244.70" y1="378.80" x2="244.70" y2="380.80" stroke="#aa0428" stroke-width="0.9"/>
<line x1="65.50" y1="342.52" x2="65.50" y2="344.52" stroke="#aa0428" stroke-width="0.9"/>
<line x1="83.00" y1="347.18" x2="83.00" y2="349.18" stroke="#aa0428" stroke-width="0.9"/>
<line x1="118.00" y1="354.90" x2="118.00" y2="356.90" stroke="#aa0428" stroke-width="0.9"/>
<line x1="124.00" y1="356.21" x2="124.00" y2="358.21" stroke="#aa0428" stroke-width="0.9"/>
<line x1="129.00" y1="357.05" x2="129.00" y2="359.05" stroke="#aa0428" stroke-width="0.9"/>
<text x="23.80" y="465.30" font-size="5.3" textLength="20.80" lengthAdjust="spacingAndGlyphs">N at Risk</text>
<line x1="23.80" y1="466.06" x2="44.60" y2="466.06" stroke="#555" stroke-width="0.5"/>
<text x="18.20" y="471.60" font-size="5.3" textLength="26.40" lengthAdjust="spacingAndGlyphs">All subjects</text>
<text x="52.70" y="471.60" font-size="5.6" text-anchor="middle">249</text>
<text x="67.70" y="471.60" font-size="5.6" text-anchor="middle">237</text>
<text x="82.70" y="471.60" font-size="5.6" text-anchor="middle">192</text>
<text x="97.70" y="471.60" font-size="5.6" text-anchor="middle">152</text>
<text x="112.70" y="471.60" font-size="5.6" text-anchor="middle">103</text>
<text x="127.70" y="471.60" font-size="5.6" text-anchor="middle">90</text>
<text x="142.70" y="471.60" font-size="5.6" text-anchor="middle">63</text>
<text x="157.70" y="471.60" font-size="5.6" text-anchor="middle">15</text>
<text x="172.70" y="471.60" font-size="5.6" text-anchor="middle">10</text>
<text x="187.70" y="471.60" font-size="5.6" text-anchor="middle">6</text>
<text x="202.70" y="471.60" font-size="5.6" text-anchor="middle">5</text>
<text x="217.70" y="471.60" font-size="5.6" text-anchor="middle">2</text>
<text x="232.70" y="471.60" font-size="5.6" text-anchor="middle">2</text>
<text x="247.70" y="471.60" font-size="5.6" text-anchor="middle">0</text>
<text x="269.80" y="17.62" font-size="11.8" font-weight="bold" fill="#000">D</text>
<text x="345.80" y="12.33" font-size="6.5" textLength="129.00" lengthAdjust="spacingAndGlyphs">NHL: Duration of response (DOR), progression</text>
<text x="350.10" y="20.03" font-size="6.5" textLength="120.60" lengthAdjust="spacingAndGlyphs">-free survival (PFS) and overall survival (OS)</text>
<line x1="466.05" y1="32.05" x2="469.15" y2="32.05" stroke="#222" stroke-width="0.75"/>
<line x1="467.60" y1="30.50" x2="467.60" y2="33.60" stroke="#222" stroke-width="0.75"/>
<text x="471.50" y="33.86" font-size="6.3" textLength="27.40" lengthAdjust="spacingAndGlyphs">Censored</text>
<line x1="313.80" y1="23.80" x2="313.80" y2="121.70" stroke="#141414" stroke-width="1.3"/>
<line x1="310.80" y1="118.90" x2="313.80" y2="118.90" stroke="#141414" stroke-width="1.0"/>
<text x="308.00" y="121.19" font-size="6.4" text-anchor="end">0</text>
<line x1="310.80" y1="109.73" x2="313.80" y2="109.73" stroke="#141414" stroke-width="1.0"/>
<line x1="310.80" y1="100.56" x2="313.80" y2="100.56" stroke="#141414" stroke-width="1.0"/>
<text x="308.00" y="102.85" font-size="6.4" text-anchor="end">20</text>
<line x1="310.80" y1="91.39" x2="313.80" y2="91.39" stroke="#141414" stroke-width="1.0"/>
<line x1="310.80" y1="82.22" x2="313.80" y2="82.22" stroke="#141414" stroke-width="1.0"/>
<text x="308.00" y="84.51" font-size="6.4" text-anchor="end">40</text>
<line x1="310.80" y1="73.05" x2="313.80" y2="73.05" stroke="#141414" stroke-width="1.0"/>
<line x1="310.80" y1="63.88" x2="313.80" y2="63.88" stroke="#141414" stroke-width="1.0"/>
<text x="308.00" y="66.17" font-size="6.4" text-anchor="end">60</text>
<line x1="310.80" y1="54.71" x2="313.80" y2="54.71" stroke="#141414" stroke-width="1.0"/>
<line x1="310.80" y1="45.54" x2="313.80" y2="45.54" stroke="#141414" stroke-width="1.0"/>
<text x="308.00" y="47.83" font-size="6.4" text-anchor="end">80</text>
<line x1="310.80" y1="36.37" x2="313.80" y2="36.37" stroke="#141414" stroke-width="1.0"/>
<line x1="310.80" y1="27.20" x2="313.80" y2="27.20" stroke="#141414" stroke-width="1.0"/>
<text x="308.00" y="29.49" font-size="6.4" text-anchor="end">100</text>
<line x1="313.20" y1="121.10" x2="508.50" y2="121.10" stroke="#141414" stroke-width="1.3"/>
<line x1="315.40" y1="121.10" x2="315.40" y2="124.10" stroke="#141414" stroke-width="1.0"/>
<text x="315.40" y="133.29" font-size="6.4" text-anchor="middle">0</text>
<line x1="330.08" y1="121.10" x2="330.08" y2="124.10" stroke="#141414" stroke-width="1.0"/>
<text x="330.08" y="133.29" font-size="6.4" text-anchor="middle">1</text>
<line x1="344.76" y1="121.10" x2="344.76" y2="124.10" stroke="#141414" stroke-width="1.0"/>
<text x="344.76" y="133.29" font-size="6.4" text-anchor="middle">2</text>
<line x1="359.44" y1="121.10" x2="359.44" y2="124.10" stroke="#141414" stroke-width="1.0"/>
<text x="359.44" y="133.29" font-size="6.4" text-anchor="middle">3</text>
<line x1="374.12" y1="121.10" x2="374.12" y2="124.10" stroke="#141414" stroke-width="1.0"/>
<text x="374.12" y="133.29" font-size="6.4" text-anchor="middle">4</text>
<line x1="388.80" y1="121.10" x2="388.80" y2="124.10" stroke="#141414" stroke-width="1.0"/>
<text x="388.80" y="133.29" font-size="6.4" text-anchor="middle">5</text>
<line x1="403.48" y1="121.10" x2="403.48" y2="124.10" stroke="#141414" stroke-width="1.0"/>
<text x="403.48" y="133.29" font-size="6.4" text-anchor="middle">6</text>
<line x1="418.16" y1="121.10" x2="418.16" y2="124.10" stroke="#141414" stroke-width="1.0"/>
<text x="418.16" y="133.29" font-size="6.4" text-anchor="middle">7</text>
<line x1="432.84" y1="121.10" x2="432.84" y2="124.10" stroke="#141414" stroke-width="1.0"/>
<text x="432.84" y="133.29" font-size="6.4" text-anchor="middle">8</text>
<line x1="447.52" y1="121.10" x2="447.52" y2="124.10" stroke="#141414" stroke-width="1.0"/>
<text x="447.52" y="133.29" font-size="6.4" text-anchor="middle">9</text>
<line x1="462.20" y1="121.10" x2="462.20" y2="124.10" stroke="#141414" stroke-width="1.0"/>
<text x="462.20" y="133.29" font-size="6.4" text-anchor="middle">10</text>
<line x1="476.88" y1="121.10" x2="476.88" y2="124.10" stroke="#141414" stroke-width="1.0"/>
<text x="476.88" y="133.29" font-size="6.4" text-anchor="middle">11</text>
<line x1="491.56" y1="121.10" x2="491.56" y2="124.10" stroke="#141414" stroke-width="1.0"/>
<text x="491.56" y="133.29" font-size="6.4" text-anchor="middle">12</text>
<line x1="506.24" y1="121.10" x2="506.24" y2="124.10" stroke="#141414" stroke-width="1.0"/>
<text x="506.24" y="133.29" font-size="6.4" text-anchor="middle">13</text>
<text x="323.80" y="144.90" font-size="8.8" font-weight="bold" textLength="172.00" lengthAdjust="spacingAndGlyphs" class="xl">Time from the initial date of disease response as CR/PR (months)</text>
<text class="nb" transform="translate(291.64,72.90) rotate(-90)" x="0" y="0" font-size="9.2" font-weight="bold" text-anchor="middle" textLength="68.60" lengthAdjust="spacingAndGlyphs">Probability % of event free</text>
<text x="319.30" y="97.06" font-size="5.2">Total N of subjects</text>
<text x="370.60" y="97.16" font-size="5.2" text-anchor="middle">94</text>
<text x="319.30" y="104.46" font-size="5.2">N of censored</text>
<text x="370.60" y="103.26" font-size="5.2" text-anchor="middle">61</text>
<text x="319.30" y="112.06" font-size="5.2">N of events</text>
<text x="370.60" y="110.36" font-size="5.2" text-anchor="middle">33</text>
<text x="319.30" y="119.56" font-size="5.2" textLength="101.00" lengthAdjust="spacingAndGlyphs">Median survival est. 6.32 (95% CI: 4.01-NE)</text>
<polyline points="314.90,28.30 315.40,28.30 317.30,28.30 317.30,29.40 318.70,29.40 318.70,29.20 322.60,29.20 324.00,29.20 324.00,30.20 325.00,31.60 326.90,31.60 326.90,32.10 328.80,32.10 330.30,32.10 330.30,32.40 331.70,32.40 331.70,33.70 333.60,33.70 333.60,35.00 335.10,35.00 335.10,35.90 336.50,35.90 336.50,37.20 338.40,37.20 338.40,37.60 339.90,37.60 339.90,38.30 341.30,38.30 341.30,39.30 342.80,39.30 342.80,40.80 343.50,43.60 345.20,43.60 345.20,44.60 346.60,44.60 346.60,46.00 348.00,48.00 349.00,48.00 349.00,48.90 350.50,48.90 350.50,49.70 351.90,49.70 351.90,50.50 353.30,50.50 353.30,51.30 355.30,51.30 355.30,52.60 357.20,52.60 357.20,53.70 359.00,53.70 359.00,54.60 360.20,56.70 372.30,56.70 372.90,58.70 373.50,60.40 375.20,60.40 375.20,62.10 377.50,62.10 377.50,63.80 379.80,63.80 379.80,65.00 382.10,65.00 382.10,66.10 383.80,66.10 383.80,67.90 403.40,67.90 404.60,67.90 404.60,69.00 405.70,70.80 407.50,70.80 407.50,72.50 407.80,74.20 501.60,74.20" fill="none" stroke="#c85a7c" stroke-width="1.1" stroke-linejoin="miter"/>
<polyline points="314.90,28.30 315.40,28.30 317.30,28.30 317.30,29.40 318.70,29.40 318.70,29.20 322.60,29.20 324.00,29.20 324.00,30.20 325.00,31.60 326.90,31.60 326.90,32.10 328.80,32.10 330.30,32.10 330.30,32.40 331.70,32.40 331.70,33.70 333.60,33.70 333.60,35.00 335.10,35.00 335.10,35.90 336.50,35.90 336.50,37.20 338.40,37.20 338.40,37.60 339.90,37.60 339.90,38.30 341.30,38.30 341.30,39.30 342.80,39.30 342.80,40.80 343.50,43.60 345.20,43.60 345.20,44.60 346.60,44.60 346.60,46.00 348.00,48.00 349.00,48.00 349.00,48.90 350.50,48.90 350.50,49.70 351.90,49.70 351.90,50.50 353.30,50.50 353.30,51.30 355.30,51.30 355.30,52.60 357.20,52.60 357.20,53.70 359.00,53.70 359.00,54.60 360.20,56.70" fill="none" stroke="#aa0428" stroke-width="0.85" stroke-linejoin="miter"/>
<polyline points="372.30,56.70 372.90,58.70 373.50,60.40 375.20,60.40 375.20,62.10 377.50,62.10 377.50,63.80 379.80,63.80 379.80,65.00 382.10,65.00 382.10,66.10 383.80,66.10 383.80,67.90" fill="none" stroke="#aa0428" stroke-width="0.85" stroke-linejoin="miter"/>
<polyline points="403.40,67.90 404.60,67.90 404.60,69.00 405.70,70.80 407.50,70.80 407.50,72.50 407.80,74.20" fill="none" stroke="#aa0428" stroke-width="0.85" stroke-linejoin="miter"/>
<polyline points="314.90,28.30 315.40,28.30 316.50,28.30" fill="none" stroke="#aa0428" stroke-width="1.35" stroke-linejoin="miter" stroke-linecap="round"/>
<rect x="313.85" y="27.30" width="1.5" height="2.0" fill="#aa0428"/>
<rect x="315.75" y="27.30" width="1.5" height="2.0" fill="#aa0428"/>
<line x1="412.00" y1="73.20" x2="412.00" y2="75.20" stroke="#aa0428" stroke-width="0.9"/>
<line x1="414.30" y1="73.20" x2="414.30" y2="75.20" stroke="#aa0428" stroke-width="0.9"/>
<line x1="423.10" y1="73.20" x2="423.10" y2="75.20" stroke="#aa0428" stroke-width="0.9"/>
<line x1="446.20" y1="73.20" x2="446.20" y2="75.20" stroke="#aa0428" stroke-width="0.9"/>
<line x1="454.30" y1="73.20" x2="454.30" y2="75.20" stroke="#aa0428" stroke-width="0.9"/>
<line x1="456.60" y1="73.20" x2="456.60" y2="75.20" stroke="#aa0428" stroke-width="0.9"/>
<line x1="465.80" y1="73.20" x2="465.80" y2="75.20" stroke="#aa0428" stroke-width="0.9"/>
<line x1="472.30" y1="73.20" x2="472.30" y2="75.20" stroke="#aa0428" stroke-width="0.9"/>
<line x1="476.20" y1="73.20" x2="476.20" y2="75.20" stroke="#aa0428" stroke-width="0.9"/>
<line x1="479.70" y1="73.20" x2="479.70" y2="75.20" stroke="#aa0428" stroke-width="0.9"/>
<line x1="480.80" y1="73.20" x2="480.80" y2="75.20" stroke="#aa0428" stroke-width="0.9"/>
<line x1="491.90" y1="73.20" x2="491.90" y2="75.20" stroke="#aa0428" stroke-width="0.9"/>
<line x1="501.60" y1="73.20" x2="501.60" y2="75.20" stroke="#aa0428" stroke-width="0.9"/>
<line x1="362.50" y1="55.70" x2="362.50" y2="57.70" stroke="#aa0428" stroke-width="0.9"/>
<line x1="366.00" y1="55.70" x2="366.00" y2="57.70" stroke="#aa0428" stroke-width="0.9"/>
<line x1="368.80" y1="55.70" x2="368.80" y2="57.70" stroke="#aa0428" stroke-width="0.9"/>
<line x1="370.00" y1="55.70" x2="370.00" y2="57.70" stroke="#aa0428" stroke-width="0.9"/>
<line x1="387.90" y1="66.90" x2="387.90" y2="68.90" stroke="#aa0428" stroke-width="0.9"/>
<line x1="390.80" y1="66.90" x2="390.80" y2="68.90" stroke="#aa0428" stroke-width="0.9"/>
<line x1="397.70" y1="66.90" x2="397.70" y2="68.90" stroke="#aa0428" stroke-width="0.9"/>
<line x1="400.60" y1="66.90" x2="400.60" y2="68.90" stroke="#aa0428" stroke-width="0.9"/>
<line x1="401.70" y1="66.90" x2="401.70" y2="68.90" stroke="#aa0428" stroke-width="0.9"/>
<line x1="315.60" y1="27.42" x2="315.60" y2="29.42" stroke="#aa0428" stroke-width="0.9"/>
<line x1="328.80" y1="31.10" x2="328.80" y2="33.10" stroke="#aa0428" stroke-width="0.9"/>
<line x1="336.50" y1="36.20" x2="336.50" y2="38.20" stroke="#aa0428" stroke-width="0.9"/>
<line x1="345.20" y1="43.60" x2="345.20" y2="45.60" stroke="#aa0428" stroke-width="0.9"/>
<text x="286.10" y="151.80" font-size="5.3" textLength="21.20" lengthAdjust="spacingAndGlyphs">N at Risk</text>
<line x1="286.10" y1="152.56" x2="307.30" y2="152.56" stroke="#555" stroke-width="0.5"/>
<text x="280.30" y="158.10" font-size="5.3" textLength="27.00" lengthAdjust="spacingAndGlyphs">All subjects</text>
<text x="315.40" y="158.13" font-size="6.8" text-anchor="middle">94</text>
<text x="330.08" y="158.13" font-size="6.8" text-anchor="middle">77</text>
<text x="344.76" y="158.13" font-size="6.8" text-anchor="middle">61</text>
<text x="359.44" y="158.13" font-size="6.8" text-anchor="middle">48</text>
<text x="374.12" y="158.13" font-size="6.8" text-anchor="middle">32</text>
<text x="388.80" y="158.13" font-size="6.8" text-anchor="middle">25</text>
<text x="403.48" y="158.13" font-size="6.8" text-anchor="middle">17</text>
<text x="418.16" y="158.13" font-size="6.8" text-anchor="middle">12</text>
<text x="432.84" y="158.13" font-size="6.8" text-anchor="middle">10</text>
<text x="447.52" y="158.13" font-size="6.8" text-anchor="middle">9</text>
<text x="462.20" y="158.13" font-size="6.8" text-anchor="middle">7</text>
<text x="476.88" y="158.13" font-size="6.8" text-anchor="middle">4</text>
<text x="491.56" y="158.13" font-size="6.8" text-anchor="middle">2</text>
<text x="506.24" y="158.13" font-size="6.8" text-anchor="middle">0</text>
<text x="317.00" y="166.56" font-size="5.2" textLength="189.70" lengthAdjust="spacingAndGlyphs">Only patients who achieved best overall response (BOR) of CR or PR are included.</text>
<text x="317.00" y="172.56" font-size="5.2" textLength="133.80" lengthAdjust="spacingAndGlyphs">Time is relative to onset of remission, 1 month = 30.4 days.</text>
<text x="269.80" y="190.82" font-size="11.8" font-weight="bold" fill="#000">E</text>
<line x1="469.05" y1="194.10" x2="472.15" y2="194.10" stroke="#222" stroke-width="0.75"/>
<line x1="470.60" y1="192.55" x2="470.60" y2="195.65" stroke="#222" stroke-width="0.75"/>
<text x="474.50" y="195.91" font-size="6.3" textLength="27.10" lengthAdjust="spacingAndGlyphs">Censored</text>
<line x1="313.80" y1="187.30" x2="313.80" y2="285.10" stroke="#141414" stroke-width="1.3"/>
<line x1="310.80" y1="282.10" x2="313.80" y2="282.10" stroke="#141414" stroke-width="1.0"/>
<text x="308.00" y="284.39" font-size="6.4" text-anchor="end">0</text>
<line x1="310.80" y1="272.93" x2="313.80" y2="272.93" stroke="#141414" stroke-width="1.0"/>
<line x1="310.80" y1="263.75" x2="313.80" y2="263.75" stroke="#141414" stroke-width="1.0"/>
<text x="308.00" y="266.04" font-size="6.4" text-anchor="end">20</text>
<line x1="310.80" y1="254.58" x2="313.80" y2="254.58" stroke="#141414" stroke-width="1.0"/>
<line x1="310.80" y1="245.40" x2="313.80" y2="245.40" stroke="#141414" stroke-width="1.0"/>
<text x="308.00" y="247.69" font-size="6.4" text-anchor="end">40</text>
<line x1="310.80" y1="236.22" x2="313.80" y2="236.22" stroke="#141414" stroke-width="1.0"/>
<line x1="310.80" y1="227.05" x2="313.80" y2="227.05" stroke="#141414" stroke-width="1.0"/>
<text x="308.00" y="229.34" font-size="6.4" text-anchor="end">60</text>
<line x1="310.80" y1="217.88" x2="313.80" y2="217.88" stroke="#141414" stroke-width="1.0"/>
<line x1="310.80" y1="208.70" x2="313.80" y2="208.70" stroke="#141414" stroke-width="1.0"/>
<text x="308.00" y="210.99" font-size="6.4" text-anchor="end">80</text>
<line x1="310.80" y1="199.53" x2="313.80" y2="199.53" stroke="#141414" stroke-width="1.0"/>
<line x1="310.80" y1="190.35" x2="313.80" y2="190.35" stroke="#141414" stroke-width="1.0"/>
<text x="308.00" y="192.64" font-size="6.4" text-anchor="end">100</text>
<line x1="313.20" y1="284.50" x2="512.00" y2="284.50" stroke="#141414" stroke-width="1.3"/>
<line x1="315.00" y1="284.50" x2="315.00" y2="287.50" stroke="#141414" stroke-width="1.0"/>
<text x="315.00" y="296.29" font-size="6.4" text-anchor="middle">0</text>
<line x1="328.87" y1="284.50" x2="328.87" y2="287.50" stroke="#141414" stroke-width="1.0"/>
<text x="328.87" y="296.29" font-size="6.4" text-anchor="middle">1</text>
<line x1="342.74" y1="284.50" x2="342.74" y2="287.50" stroke="#141414" stroke-width="1.0"/>
<text x="342.74" y="296.29" font-size="6.4" text-anchor="middle">2</text>
<line x1="356.61" y1="284.50" x2="356.61" y2="287.50" stroke="#141414" stroke-width="1.0"/>
<text x="356.61" y="296.29" font-size="6.4" text-anchor="middle">3</text>
<line x1="370.48" y1="284.50" x2="370.48" y2="287.50" stroke="#141414" stroke-width="1.0"/>
<text x="370.48" y="296.29" font-size="6.4" text-anchor="middle">4</text>
<line x1="384.35" y1="284.50" x2="384.35" y2="287.50" stroke="#141414" stroke-width="1.0"/>
<text x="384.35" y="296.29" font-size="6.4" text-anchor="middle">5</text>
<line x1="398.22" y1="284.50" x2="398.22" y2="287.50" stroke="#141414" stroke-width="1.0"/>
<text x="398.22" y="296.29" font-size="6.4" text-anchor="middle">6</text>
<line x1="412.09" y1="284.50" x2="412.09" y2="287.50" stroke="#141414" stroke-width="1.0"/>
<text x="412.09" y="296.29" font-size="6.4" text-anchor="middle">7</text>
<line x1="425.96" y1="284.50" x2="425.96" y2="287.50" stroke="#141414" stroke-width="1.0"/>
<text x="425.96" y="296.29" font-size="6.4" text-anchor="middle">8</text>
<line x1="439.83" y1="284.50" x2="439.83" y2="287.50" stroke="#141414" stroke-width="1.0"/>
<text x="439.83" y="296.29" font-size="6.4" text-anchor="middle">9</text>
<line x1="453.70" y1="284.50" x2="453.70" y2="287.50" stroke="#141414" stroke-width="1.0"/>
<text x="453.70" y="296.29" font-size="6.4" text-anchor="middle">10</text>
<line x1="467.57" y1="284.50" x2="467.57" y2="287.50" stroke="#141414" stroke-width="1.0"/>
<text x="467.57" y="296.29" font-size="6.4" text-anchor="middle">11</text>
<line x1="481.44" y1="284.50" x2="481.44" y2="287.50" stroke="#141414" stroke-width="1.0"/>
<text x="481.44" y="296.29" font-size="6.4" text-anchor="middle">12</text>
<line x1="495.31" y1="284.50" x2="495.31" y2="287.50" stroke="#141414" stroke-width="1.0"/>
<text x="495.31" y="296.29" font-size="6.4" text-anchor="middle">13</text>
<line x1="509.18" y1="284.50" x2="509.18" y2="287.50" stroke="#141414" stroke-width="1.0"/>
<text x="509.18" y="296.29" font-size="6.4" text-anchor="middle">14</text>
<text x="364.60" y="308.60" font-size="8.8" font-weight="bold" textLength="94.30" lengthAdjust="spacingAndGlyphs" class="xl">Time from date of infusion (months)</text>
<text class="nb" transform="translate(291.64,235.65) rotate(-90)" x="0" y="0" font-size="9.2" font-weight="bold" text-anchor="middle" textLength="70.10" lengthAdjust="spacingAndGlyphs">Probability % of event free</text>
<text x="322.40" y="257.76" font-size="5.2">Total N of subjects</text>
<text x="375.70" y="257.76" font-size="5.2" text-anchor="middle">152</text>
<text x="322.40" y="264.86" font-size="5.2">N of censored</text>
<text x="375.70" y="264.86" font-size="5.2" text-anchor="middle">58</text>
<text x="322.40" y="272.26" font-size="5.2">N of events</text>
<text x="375.70" y="272.26" font-size="5.2" text-anchor="middle">94</text>
<text x="322.40" y="279.66" font-size="5.2" textLength="104.20" lengthAdjust="spacingAndGlyphs">Median survival est. 4.21 (95% CI: 3.06-5.13)</text>
<polyline points="314.90,190.40 317.70,190.40 319.15,190.40 319.15,190.85 320.60,190.85 320.60,191.30 322.50,191.30 322.50,192.00 324.40,192.00 324.40,192.70 326.30,195.60 328.30,201.30 330.20,205.80 332.10,205.80 332.10,207.40 334.00,207.40 334.00,209.00 335.95,209.00 335.95,210.95 337.90,210.95 337.90,212.90 339.80,212.90 339.80,214.80 341.70,214.80 341.70,216.70 343.30,216.70 343.30,217.80 344.90,217.80 344.90,218.90 346.50,218.90 346.50,220.00 348.45,220.00 348.45,221.55 350.40,221.55 350.40,223.10 352.30,223.10 352.30,224.25 354.20,224.25 354.20,225.40 357.10,229.20 360.00,232.70 361.90,232.70 361.90,234.05 363.80,234.05 363.80,235.40 369.60,235.40 369.60,235.60 371.55,235.60 371.55,236.05 373.50,236.05 373.50,236.50 375.40,236.50 375.40,237.20 377.30,237.20 377.30,237.90 379.25,237.90 379.25,238.85 381.20,238.85 381.20,239.80 383.10,239.80 383.10,241.05 385.00,241.05 385.00,242.30 386.45,242.30 386.45,243.45 387.90,243.45 387.90,244.60 389.50,244.60 389.50,244.73 391.10,244.73 391.10,244.87 392.70,244.87 392.70,245.00 394.60,245.00 394.60,245.75 396.50,245.75 396.50,246.50 398.80,249.40 400.00,249.40 400.00,249.70 419.60,249.70 421.20,249.70 421.20,251.60 439.30,251.60 440.40,253.40 443.90,253.40 445.00,255.30 458.90,255.30 460.50,257.60 505.10,257.60" fill="none" stroke="#d4829a" stroke-width="1.0" stroke-linejoin="miter"/>
<polyline points="314.90,190.40 317.70,190.40 319.15,190.40 319.15,190.85 320.60,190.85 320.60,191.30 322.50,191.30 322.50,192.00 324.40,192.00 324.40,192.70 326.30,195.60 328.30,201.30 330.20,205.80 332.10,205.80 332.10,207.40 334.00,207.40 334.00,209.00 335.95,209.00 335.95,210.95 337.90,210.95 337.90,212.90 339.80,212.90 339.80,214.80 341.70,214.80 341.70,216.70 343.30,216.70 343.30,217.80 344.90,217.80 344.90,218.90 346.50,218.90 346.50,220.00 348.45,220.00 348.45,221.55 350.40,221.55 350.40,223.10 352.30,223.10 352.30,224.25 354.20,224.25 354.20,225.40 357.10,229.20 360.00,232.70 361.90,232.70 361.90,234.05 363.80,234.05 363.80,235.40 369.60,235.40 369.60,235.60 371.55,235.60 371.55,236.05 373.50,236.05 373.50,236.50 375.40,236.50 375.40,237.20 377.30,237.20 377.30,237.90 379.25,237.90 379.25,238.85 381.20,238.85 381.20,239.80 383.10,239.80 383.10,241.05 385.00,241.05 385.00,242.30 386.45,242.30 386.45,243.45 387.90,243.45 387.90,244.60 389.50,244.60 389.50,244.73 391.10,244.73 391.10,244.87 392.70,244.87 392.70,245.00 394.60,245.00 394.60,245.75 396.50,245.75 396.50,246.50 398.80,249.40 400.00,249.40 400.00,249.70" fill="none" stroke="#aa0428" stroke-width="0.68" stroke-linejoin="miter"/>
<polyline points="419.60,249.70 421.20,249.70 421.20,251.60" fill="none" stroke="#aa0428" stroke-width="0.68" stroke-linejoin="miter"/>
<polyline points="439.30,251.60 440.40,253.40 443.90,253.40 445.00,255.30" fill="none" stroke="#aa0428" stroke-width="0.68" stroke-linejoin="miter"/>
<polyline points="458.90,255.30 460.50,257.60" fill="none" stroke="#aa0428" stroke-width="0.68" stroke-linejoin="miter"/>
<polyline points="352.50,224.25 354.20,224.25 354.20,225.40 356.00,227.76" fill="none" stroke="#aa0428" stroke-width="1.35" stroke-linejoin="miter" stroke-linecap="round"/>
<rect x="351.75" y="223.25" width="1.5" height="2.0" fill="#aa0428"/>
<rect x="355.25" y="226.76" width="1.5" height="2.0" fill="#aa0428"/>
<polyline points="371.50,235.60 371.55,235.60 371.55,236.05 373.50,236.05 373.50,236.50 375.40,236.50 375.40,237.20 376.50,237.20" fill="none" stroke="#aa0428" stroke-width="1.35" stroke-linejoin="miter" stroke-linecap="round"/>
<rect x="370.75" y="234.60" width="1.5" height="2.0" fill="#aa0428"/>
<rect x="373.25" y="235.50" width="1.5" height="2.0" fill="#aa0428"/>
<rect x="375.75" y="236.20" width="1.5" height="2.0" fill="#aa0428"/>
<polyline points="393.50,245.00 394.60,245.00 394.60,245.75 396.50,245.75 396.50,246.50 397.50,247.76" fill="none" stroke="#aa0428" stroke-width="1.35" stroke-linejoin="miter" stroke-linecap="round"/>
<rect x="392.75" y="244.00" width="1.5" height="2.0" fill="#aa0428"/>
<rect x="396.75" y="246.76" width="1.5" height="2.0" fill="#aa0428"/>
<polyline points="398.50,249.02 398.80,249.40 400.00,249.40 400.00,249.70 401.00,249.70" fill="none" stroke="#aa0428" stroke-width="1.35" stroke-linejoin="miter" stroke-linecap="round"/>
<rect x="397.75" y="248.02" width="1.5" height="2.0" fill="#aa0428"/>
<rect x="400.25" y="248.70" width="1.5" height="2.0" fill="#aa0428"/>
<line x1="401.20" y1="248.70" x2="401.20" y2="250.70" stroke="#aa0428" stroke-width="0.9"/>
<line x1="405.10" y1="248.70" x2="405.10" y2="250.70" stroke="#aa0428" stroke-width="0.9"/>
<line x1="406.90" y1="248.70" x2="406.90" y2="250.70" stroke="#aa0428" stroke-width="0.9"/>
<line x1="408.80" y1="248.70" x2="408.80" y2="250.70" stroke="#aa0428" stroke-width="0.9"/>
<line x1="410.40" y1="248.70" x2="410.40" y2="250.70" stroke="#aa0428" stroke-width="0.9"/>
<line x1="417.30" y1="248.70" x2="417.30" y2="250.70" stroke="#aa0428" stroke-width="0.9"/>
<line x1="432.30" y1="250.60" x2="432.30" y2="252.60" stroke="#aa0428" stroke-width="0.9"/>
<line x1="477.40" y1="256.60" x2="477.40" y2="258.60" stroke="#aa0428" stroke-width="0.9"/>
<line x1="479.70" y1="256.60" x2="479.70" y2="258.60" stroke="#aa0428" stroke-width="0.9"/>
<line x1="482.00" y1="256.60" x2="482.00" y2="258.60" stroke="#aa0428" stroke-width="0.9"/>
<line x1="485.50" y1="256.60" x2="485.50" y2="258.60" stroke="#aa0428" stroke-width="0.9"/>
<line x1="487.30" y1="256.60" x2="487.30" y2="258.60" stroke="#aa0428" stroke-width="0.9"/>
<line x1="494.70" y1="256.60" x2="494.70" y2="258.60" stroke="#aa0428" stroke-width="0.9"/>
<line x1="505.10" y1="256.60" x2="505.10" y2="258.60" stroke="#aa0428" stroke-width="0.9"/>
<text x="286.10" y="315.00" font-size="5.3" textLength="21.20" lengthAdjust="spacingAndGlyphs">N at Risk</text>
<line x1="286.10" y1="315.76" x2="307.30" y2="315.76" stroke="#555" stroke-width="0.5"/>
<text x="280.30" y="321.50" font-size="5.3" textLength="27.00" lengthAdjust="spacingAndGlyphs">All subjects</text>
<text x="315.00" y="322.00" font-size="5.6" text-anchor="middle">152</text>
<text x="328.87" y="322.00" font-size="5.6" text-anchor="middle">129</text>
<text x="342.74" y="322.00" font-size="5.6" text-anchor="middle">104</text>
<text x="356.61" y="322.00" font-size="5.6" text-anchor="middle">87</text>
<text x="370.48" y="322.00" font-size="5.6" text-anchor="middle">67</text>
<text x="384.35" y="322.00" font-size="5.6" text-anchor="middle">51</text>
<text x="398.22" y="322.00" font-size="5.6" text-anchor="middle">34</text>
<text x="412.09" y="322.00" font-size="5.6" text-anchor="middle">18</text>
<text x="425.96" y="322.00" font-size="5.6" text-anchor="middle">16</text>
<text x="439.83" y="322.00" font-size="5.6" text-anchor="middle">15</text>
<text x="453.70" y="322.00" font-size="5.6" text-anchor="middle">13</text>
<text x="467.57" y="322.00" font-size="5.6" text-anchor="middle">11</text>
<text x="481.44" y="322.00" font-size="5.6" text-anchor="middle">9</text>
<text x="495.31" y="322.00" font-size="5.6" text-anchor="middle">1</text>
<text x="509.18" y="322.00" font-size="5.6" text-anchor="middle">0</text>
<text x="269.80" y="339.22" font-size="11.8" font-weight="bold" fill="#000">F</text>
<line x1="464.35" y1="342.75" x2="467.45" y2="342.75" stroke="#222" stroke-width="0.75"/>
<line x1="465.90" y1="341.20" x2="465.90" y2="344.30" stroke="#222" stroke-width="0.75"/>
<text x="469.80" y="344.56" font-size="6.3" textLength="27.40" lengthAdjust="spacingAndGlyphs">Censored</text>
<line x1="313.50" y1="336.20" x2="313.50" y2="433.60" stroke="#141414" stroke-width="1.3"/>
<line x1="310.50" y1="430.50" x2="313.50" y2="430.50" stroke="#141414" stroke-width="1.0"/>
<text x="307.70" y="430.69" font-size="6.4" text-anchor="end">0</text>
<line x1="310.50" y1="421.32" x2="313.50" y2="421.32" stroke="#141414" stroke-width="1.0"/>
<line x1="310.50" y1="412.14" x2="313.50" y2="412.14" stroke="#141414" stroke-width="1.0"/>
<text x="307.70" y="412.75" font-size="6.4" text-anchor="end">20</text>
<line x1="310.50" y1="402.96" x2="313.50" y2="402.96" stroke="#141414" stroke-width="1.0"/>
<line x1="310.50" y1="393.78" x2="313.50" y2="393.78" stroke="#141414" stroke-width="1.0"/>
<text x="307.70" y="394.81" font-size="6.4" text-anchor="end">40</text>
<line x1="310.50" y1="384.60" x2="313.50" y2="384.60" stroke="#141414" stroke-width="1.0"/>
<line x1="310.50" y1="375.42" x2="313.50" y2="375.42" stroke="#141414" stroke-width="1.0"/>
<text x="307.70" y="376.87" font-size="6.4" text-anchor="end">60</text>
<line x1="310.50" y1="366.24" x2="313.50" y2="366.24" stroke="#141414" stroke-width="1.0"/>
<line x1="310.50" y1="357.06" x2="313.50" y2="357.06" stroke="#141414" stroke-width="1.0"/>
<text x="307.70" y="358.93" font-size="6.4" text-anchor="end">80</text>
<line x1="310.50" y1="347.88" x2="313.50" y2="347.88" stroke="#141414" stroke-width="1.0"/>
<line x1="310.50" y1="338.70" x2="313.50" y2="338.70" stroke="#141414" stroke-width="1.0"/>
<text x="307.70" y="340.99" font-size="6.4" text-anchor="end">100</text>
<line x1="312.90" y1="433.00" x2="507.90" y2="433.00" stroke="#141414" stroke-width="1.3"/>
<line x1="314.20" y1="433.00" x2="314.20" y2="436.00" stroke="#141414" stroke-width="1.0"/>
<text x="314.20" y="445.39" font-size="6.4" text-anchor="middle">0</text>
<line x1="326.91" y1="433.00" x2="326.91" y2="436.00" stroke="#141414" stroke-width="1.0"/>
<text x="326.91" y="445.39" font-size="6.4" text-anchor="middle">1</text>
<line x1="339.62" y1="433.00" x2="339.62" y2="436.00" stroke="#141414" stroke-width="1.0"/>
<text x="339.62" y="445.39" font-size="6.4" text-anchor="middle">2</text>
<line x1="352.33" y1="433.00" x2="352.33" y2="436.00" stroke="#141414" stroke-width="1.0"/>
<text x="352.33" y="445.39" font-size="6.4" text-anchor="middle">3</text>
<line x1="365.04" y1="433.00" x2="365.04" y2="436.00" stroke="#141414" stroke-width="1.0"/>
<text x="365.04" y="445.39" font-size="6.4" text-anchor="middle">4</text>
<line x1="377.75" y1="433.00" x2="377.75" y2="436.00" stroke="#141414" stroke-width="1.0"/>
<text x="377.75" y="445.39" font-size="6.4" text-anchor="middle">5</text>
<line x1="390.46" y1="433.00" x2="390.46" y2="436.00" stroke="#141414" stroke-width="1.0"/>
<text x="390.46" y="445.39" font-size="6.4" text-anchor="middle">6</text>
<line x1="403.17" y1="433.00" x2="403.17" y2="436.00" stroke="#141414" stroke-width="1.0"/>
<text x="403.17" y="445.39" font-size="6.4" text-anchor="middle">7</text>
<line x1="415.88" y1="433.00" x2="415.88" y2="436.00" stroke="#141414" stroke-width="1.0"/>
<text x="415.88" y="445.39" font-size="6.4" text-anchor="middle">8</text>
<line x1="428.59" y1="433.00" x2="428.59" y2="436.00" stroke="#141414" stroke-width="1.0"/>
<text x="428.59" y="445.39" font-size="6.4" text-anchor="middle">9</text>
<line x1="441.30" y1="433.00" x2="441.30" y2="436.00" stroke="#141414" stroke-width="1.0"/>
<text x="441.30" y="445.39" font-size="6.4" text-anchor="middle">10</text>
<line x1="454.01" y1="433.00" x2="454.01" y2="436.00" stroke="#141414" stroke-width="1.0"/>
<text x="454.01" y="445.39" font-size="6.4" text-anchor="middle">11</text>
<line x1="466.72" y1="433.00" x2="466.72" y2="436.00" stroke="#141414" stroke-width="1.0"/>
<text x="466.72" y="445.39" font-size="6.4" text-anchor="middle">12</text>
<line x1="479.43" y1="433.00" x2="479.43" y2="436.00" stroke="#141414" stroke-width="1.0"/>
<text x="479.43" y="445.39" font-size="6.4" text-anchor="middle">13</text>
<line x1="492.14" y1="433.00" x2="492.14" y2="436.00" stroke="#141414" stroke-width="1.0"/>
<text x="492.14" y="445.39" font-size="6.4" text-anchor="middle">14</text>
<line x1="504.85" y1="433.00" x2="504.85" y2="436.00" stroke="#141414" stroke-width="1.0"/>
<text x="504.85" y="445.39" font-size="6.4" text-anchor="middle">15</text>
<text x="362.30" y="455.00" font-size="8.8" font-weight="bold" textLength="94.30" lengthAdjust="spacingAndGlyphs" class="xl">Time from date of infusion (months)</text>
<text class="yl" transform="translate(290.68,382.95) rotate(-90)" x="0" y="0" font-size="7.2" font-weight="normal" text-anchor="middle" textLength="51.30" lengthAdjust="spacingAndGlyphs">Probability % of event free</text>
<text x="319.10" y="405.96" font-size="5.2">Total N of subjects</text>
<text x="372.50" y="405.96" font-size="5.2" text-anchor="middle">152</text>
<text x="319.10" y="413.46" font-size="5.2">N of censored</text>
<text x="372.50" y="413.46" font-size="5.2" text-anchor="middle">101</text>
<text x="319.10" y="420.76" font-size="5.2">N of events</text>
<text x="372.50" y="420.76" font-size="5.2" text-anchor="middle">51</text>
<text x="319.10" y="428.26" font-size="5.2" textLength="110.90" lengthAdjust="spacingAndGlyphs">Median survival est. 13.06 (95% CI: 8.55-13.98)</text>
<polyline points="315.20,338.30 319.70,338.30 321.60,338.30 321.60,339.00 324.00,339.00 324.00,339.30 325.90,339.30 325.90,340.70 327.90,340.70 327.90,342.20 329.10,342.20 329.10,342.65 330.30,342.65 330.30,343.10 332.70,343.10 332.70,345.10 333.90,345.10 333.90,346.05 335.10,346.05 335.10,347.00 337.50,347.00 337.50,348.60 339.90,348.60 339.90,349.60 341.35,349.60 341.35,350.05 342.80,350.05 342.80,350.50 344.20,350.50 344.20,351.50 345.70,351.50 345.70,353.00 346.90,353.00 346.90,353.60 348.10,353.60 348.10,354.20 350.50,354.20 350.50,355.20 351.90,355.20 351.90,355.90 353.30,355.90 353.30,356.60 355.00,356.60 356.70,356.60 356.70,357.33 358.40,357.33 358.40,358.07 360.10,358.07 360.10,358.80 361.47,358.80 361.47,359.23 362.83,359.23 362.83,359.67 364.20,359.67 364.20,360.10 365.73,360.10 365.73,360.30 367.27,360.30 367.27,360.50 368.80,360.50 368.80,360.70 370.55,360.70 370.55,361.85 372.30,361.85 372.30,363.00 374.05,363.00 374.05,363.25 375.80,363.25 375.80,363.50 378.60,363.50 378.60,363.80 379.97,363.80 379.97,364.03 381.33,364.03 381.33,364.27 382.70,364.27 382.70,364.50 385.60,364.50 385.60,364.70 387.00,364.70 387.00,365.15 388.40,365.15 388.40,365.60 397.70,365.60 399.40,365.60 399.40,367.00 400.60,368.70 408.10,368.70 410.40,368.70 410.40,369.30 411.50,372.20 421.30,372.20 423.30,372.20 423.30,374.20 435.40,374.20 436.30,376.20 446.90,376.20 447.90,378.50 478.70,378.50 479.60,384.80 491.20,384.80 491.50,415.60 496.90,415.60" fill="none" stroke="#d4829a" stroke-width="1.0" stroke-linejoin="miter"/>
<polyline points="315.20,338.30 319.70,338.30 321.60,338.30 321.60,339.00 324.00,339.00 324.00,339.30 325.90,339.30 325.90,340.70 327.90,340.70 327.90,342.20 329.10,342.20 329.10,342.65 330.30,342.65 330.30,343.10 332.70,343.10 332.70,345.10 333.90,345.10 333.90,346.05 335.10,346.05 335.10,347.00 337.50,347.00 337.50,348.60 339.90,348.60 339.90,349.60 341.35,349.60 341.35,350.05 342.80,350.05 342.80,350.50 344.20,350.50 344.20,351.50 345.70,351.50 345.70,353.00 346.90,353.00 346.90,353.60 348.10,353.60 348.10,354.20 350.50,354.20 350.50,355.20 351.90,355.20 351.90,355.90 353.30,355.90 353.30,356.60 355.00,356.60 356.70,356.60 356.70,357.33 358.40,357.33 358.40,358.07 360.10,358.07 360.10,358.80 361.47,358.80 361.47,359.23 362.83,359.23 362.83,359.67 364.20,359.67 364.20,360.10 365.73,360.10 365.73,360.30 367.27,360.30 367.27,360.50 368.80,360.50 368.80,360.70 370.55,360.70 370.55,361.85 372.30,361.85 372.30,363.00 374.05,363.00 374.05,363.25 375.80,363.25 375.80,363.50 378.60,363.50 378.60,363.80 379.97,363.80 379.97,364.03 381.33,364.03 381.33,364.27 382.70,364.27 382.70,364.50 385.60,364.50 385.60,364.70 387.00,364.70 387.00,365.15 388.40,365.15 388.40,365.60" fill="none" stroke="#aa0428" stroke-width="0.68" stroke-linejoin="miter"/>
<polyline points="397.70,365.60 399.40,365.60 399.40,367.00 400.60,368.70" fill="none" stroke="#aa0428" stroke-width="0.68" stroke-linejoin="miter"/>
<polyline points="408.10,368.70 410.40,368.70 410.40,369.30 411.50,372.20" fill="none" stroke="#aa0428" stroke-width="0.68" stroke-linejoin="miter"/>
<polyline points="421.30,372.20 423.30,372.20 423.30,374.20" fill="none" stroke="#aa0428" stroke-width="0.68" stroke-linejoin="miter"/>
<polyline points="435.40,374.20 436.30,376.20" fill="none" stroke="#aa0428" stroke-width="0.68" stroke-linejoin="miter"/>
<polyline points="446.90,376.20 447.90,378.50" fill="none" stroke="#aa0428" stroke-width="0.68" stroke-linejoin="miter"/>
<polyline points="478.70,378.50 479.60,384.80" fill="none" stroke="#aa0428" stroke-width="0.68" stroke-linejoin="miter"/>
<polyline points="491.20,384.80 491.50,415.60 496.90,415.60" fill="none" stroke="#aa0428" stroke-width="0.68" stroke-linejoin="miter"/>
<polyline points="353.50,356.60 355.00,356.60 356.70,356.60 356.70,357.33 358.40,357.33 358.40,358.07 360.10,358.07 360.10,358.80 361.47,358.80 361.47,359.23 362.83,359.23 362.83,359.67 364.20,359.67 364.20,360.10 364.50,360.10" fill="none" stroke="#aa0428" stroke-width="1.35" stroke-linejoin="miter" stroke-linecap="round"/>
<rect x="352.75" y="355.60" width="1.5" height="2.0" fill="#aa0428"/>
<rect x="355.50" y="355.60" width="1.5" height="2.0" fill="#aa0428"/>
<rect x="358.25" y="357.07" width="1.5" height="2.0" fill="#aa0428"/>
<rect x="361.00" y="358.23" width="1.5" height="2.0" fill="#aa0428"/>
<rect x="363.75" y="359.10" width="1.5" height="2.0" fill="#aa0428"/>
<polyline points="388.40,365.15 388.40,365.15 388.40,365.60 392.80,365.60" fill="none" stroke="#aa0428" stroke-width="1.35" stroke-linejoin="miter" stroke-linecap="round"/>
<rect x="387.65" y="364.15" width="1.5" height="2.0" fill="#aa0428"/>
<rect x="392.05" y="364.60" width="1.5" height="2.0" fill="#aa0428"/>
<line x1="331.20" y1="342.85" x2="331.20" y2="344.85" stroke="#aa0428" stroke-width="0.9"/>
<line x1="366.00" y1="359.33" x2="366.00" y2="361.33" stroke="#aa0428" stroke-width="0.9"/>
<line x1="371.00" y1="361.15" x2="371.00" y2="363.15" stroke="#aa0428" stroke-width="0.9"/>
<line x1="379.50" y1="362.95" x2="379.50" y2="364.95" stroke="#aa0428" stroke-width="0.9"/>
<line x1="394.80" y1="364.60" x2="394.80" y2="366.60" stroke="#aa0428" stroke-width="0.9"/>
<line x1="397.50" y1="364.60" x2="397.50" y2="366.60" stroke="#aa0428" stroke-width="0.9"/>
<line x1="408.00" y1="367.70" x2="408.00" y2="369.70" stroke="#aa0428" stroke-width="0.9"/>
<line x1="458.50" y1="377.50" x2="458.50" y2="379.50" stroke="#aa0428" stroke-width="0.9"/>
<line x1="463.80" y1="377.50" x2="463.80" y2="379.50" stroke="#aa0428" stroke-width="0.9"/>
<line x1="465.20" y1="377.50" x2="465.20" y2="379.50" stroke="#aa0428" stroke-width="0.9"/>
<line x1="466.20" y1="377.50" x2="466.20" y2="379.50" stroke="#aa0428" stroke-width="0.9"/>
<line x1="467.70" y1="377.50" x2="467.70" y2="379.50" stroke="#aa0428" stroke-width="0.9"/>
<line x1="470.40" y1="377.50" x2="470.40" y2="379.50" stroke="#aa0428" stroke-width="0.9"/>
<line x1="471.50" y1="377.50" x2="471.50" y2="379.50" stroke="#aa0428" stroke-width="0.9"/>
<line x1="473.50" y1="377.50" x2="473.50" y2="379.50" stroke="#aa0428" stroke-width="0.9"/>
<line x1="478.70" y1="377.50" x2="478.70" y2="379.50" stroke="#aa0428" stroke-width="0.9"/>
<line x1="484.40" y1="383.80" x2="484.40" y2="385.80" stroke="#aa0428" stroke-width="0.9"/>
<line x1="487.30" y1="383.80" x2="487.30" y2="385.80" stroke="#aa0428" stroke-width="0.9"/>
<line x1="489.60" y1="383.80" x2="489.60" y2="385.80" stroke="#aa0428" stroke-width="0.9"/>
<line x1="496.90" y1="414.60" x2="496.90" y2="416.60" stroke="#aa0428" stroke-width="0.9"/>
<text x="286.20" y="461.60" font-size="5.3" textLength="20.70" lengthAdjust="spacingAndGlyphs">N at Risk</text>
<line x1="286.20" y1="462.36" x2="306.90" y2="462.36" stroke="#555" stroke-width="0.5"/>
<text x="280.80" y="468.40" font-size="5.3" textLength="26.10" lengthAdjust="spacingAndGlyphs">All subjects</text>
<text x="314.20" y="468.20" font-size="5.6" text-anchor="middle">152</text>
<text x="326.91" y="468.20" font-size="5.6" text-anchor="middle">146</text>
<text x="339.62" y="468.20" font-size="5.6" text-anchor="middle">131</text>
<text x="352.33" y="468.20" font-size="5.6" text-anchor="middle">119</text>
<text x="365.04" y="468.20" font-size="5.6" text-anchor="middle">94</text>
<text x="377.75" y="468.20" font-size="5.6" text-anchor="middle">81</text>
<text x="390.46" y="468.20" font-size="5.6" text-anchor="middle">60</text>
<text x="403.17" y="468.20" font-size="5.6" text-anchor="middle">33</text>
<text x="415.88" y="468.20" font-size="5.6" text-anchor="middle">30</text>
<text x="428.59" y="468.20" font-size="5.6" text-anchor="middle">28</text>
<text x="441.30" y="468.20" font-size="5.6" text-anchor="middle">27</text>
<text x="454.01" y="468.20" font-size="5.6" text-anchor="middle">25</text>
<text x="466.72" y="468.20" font-size="5.6" text-anchor="middle">19</text>
<text x="479.43" y="468.20" font-size="5.6" text-anchor="middle">8</text>
<text x="492.14" y="468.20" font-size="5.6" text-anchor="middle">1</text>
<text x="504.85" y="468.20" font-size="5.6" text-anchor="middle">0</text>
</g>
</svg>
</body></html>
